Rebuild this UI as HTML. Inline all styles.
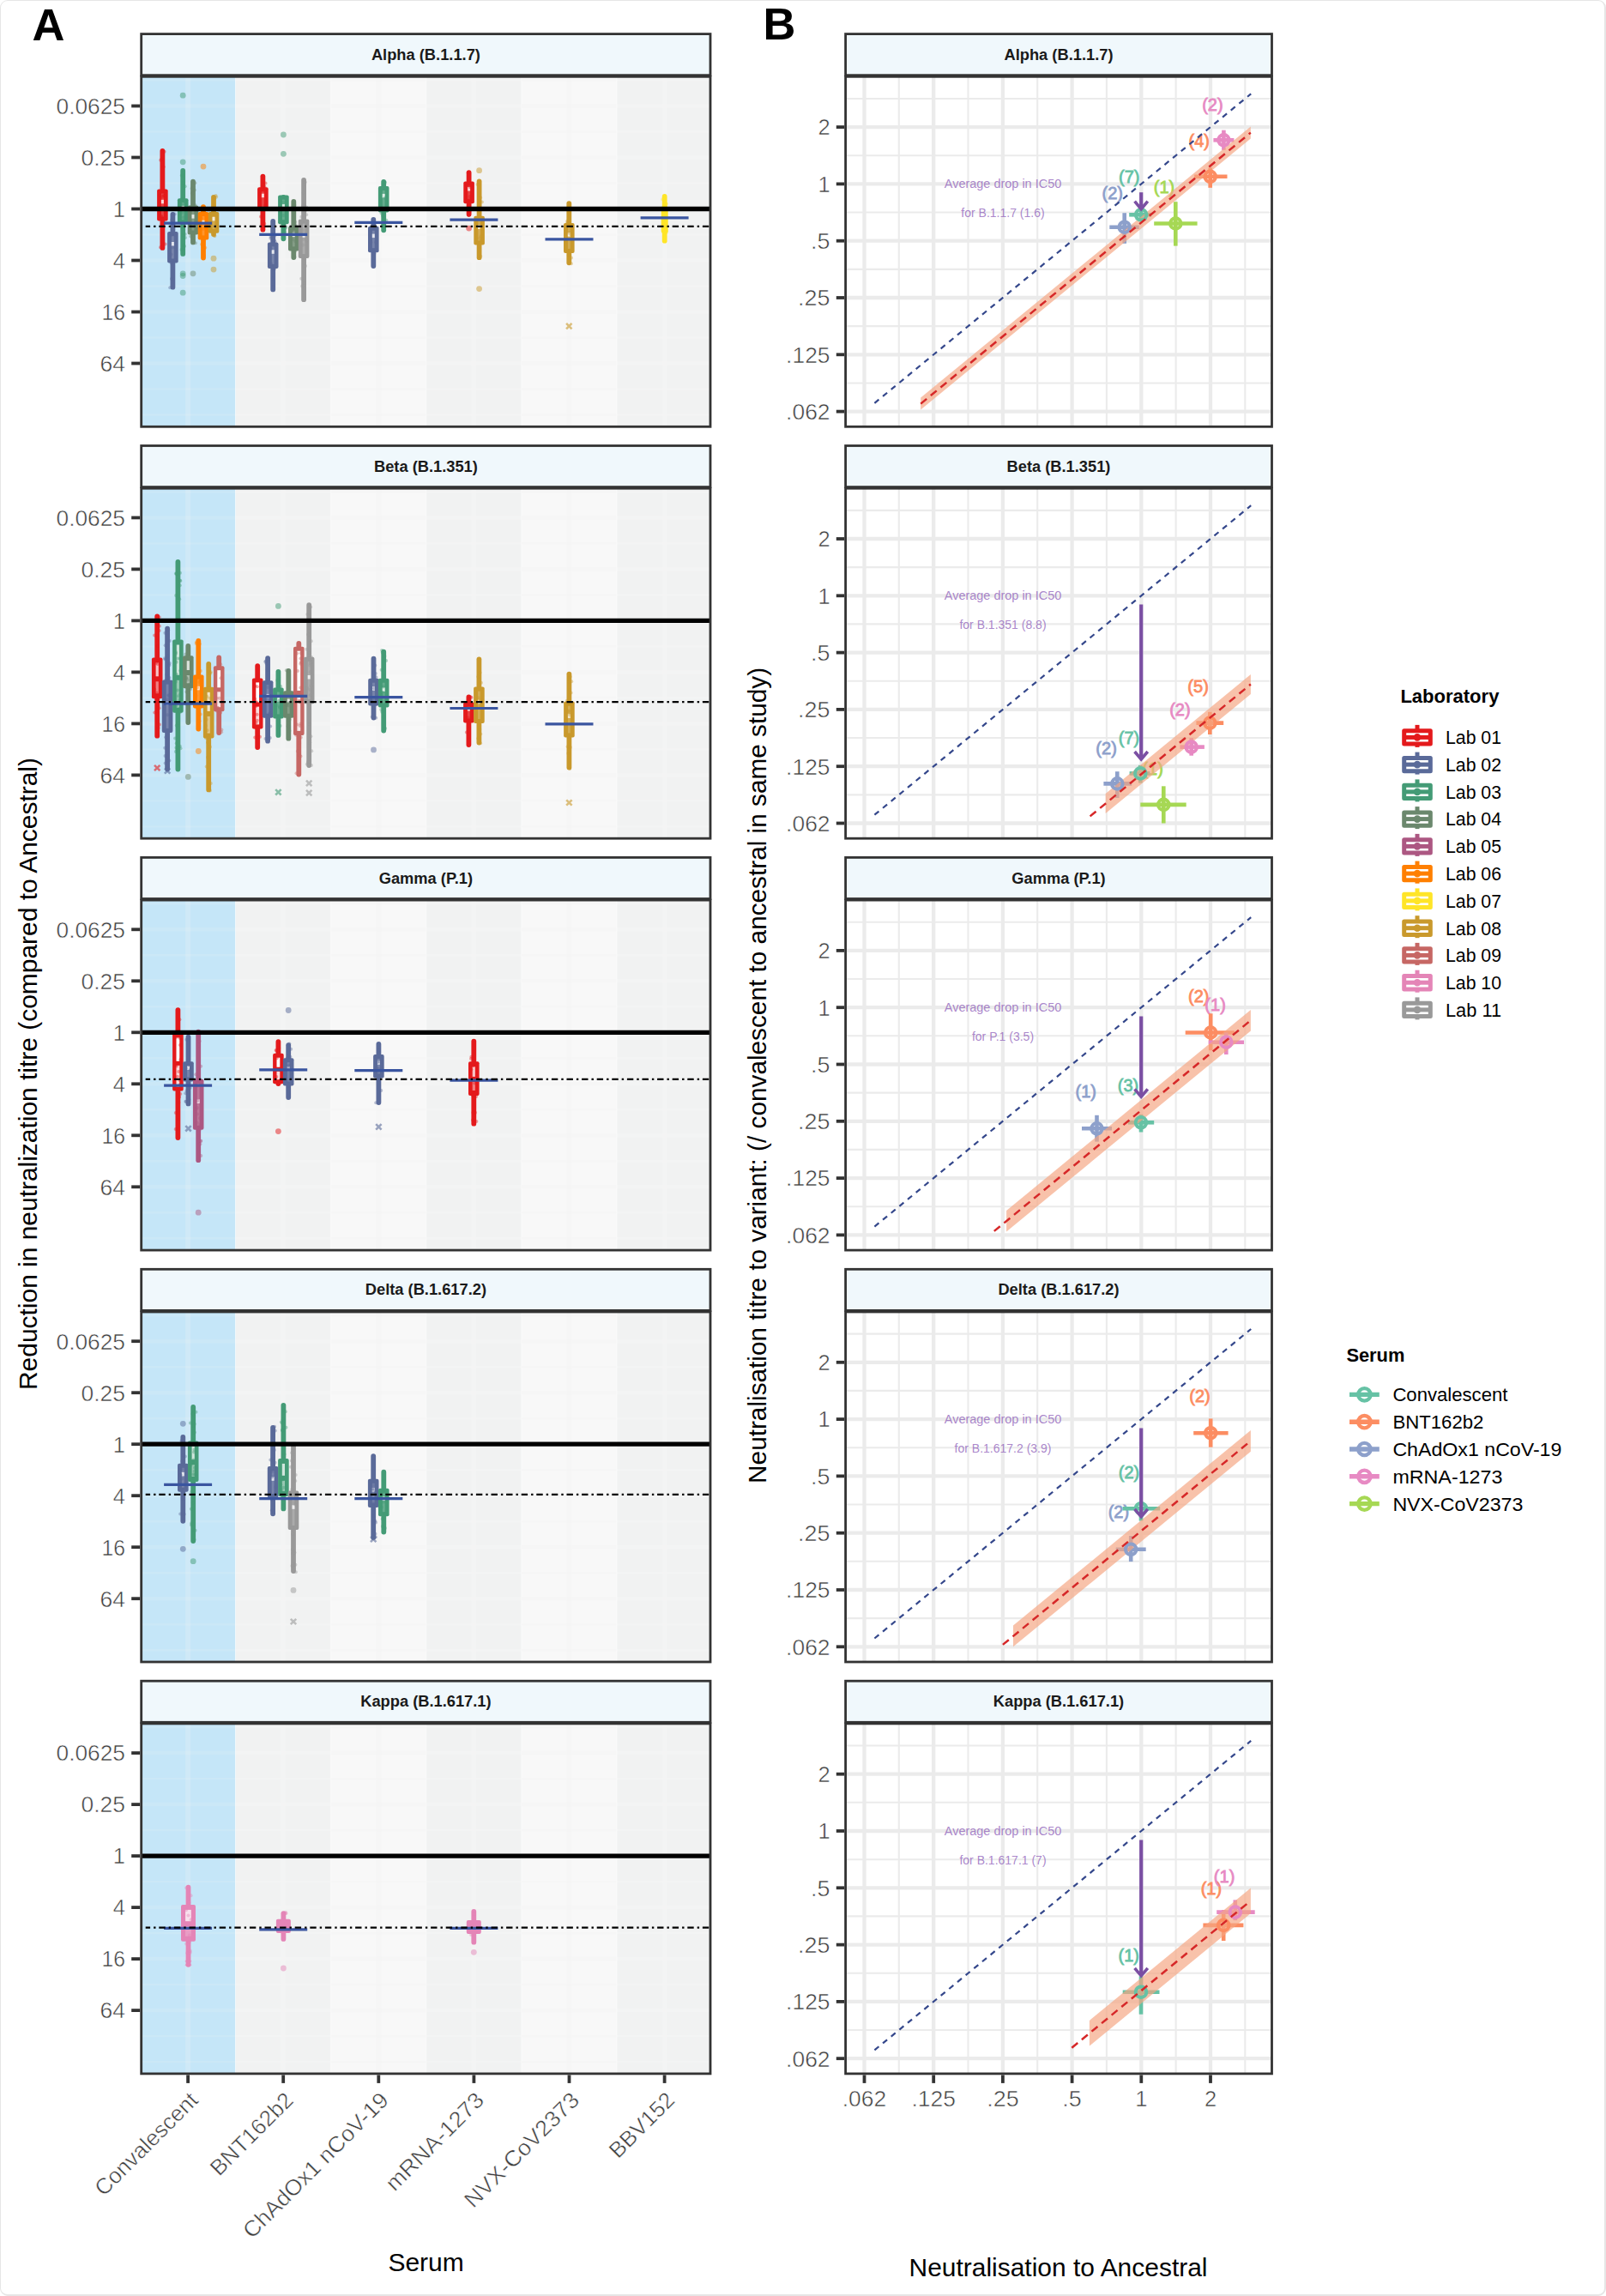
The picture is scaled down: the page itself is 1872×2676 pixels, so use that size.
<!DOCTYPE html>
<html lang="en"><head><meta charset="utf-8"><title>Figure</title>
<style>
html,body{margin:0;padding:0;background:#fff;}
body{width:1872px;height:2676px;position:relative;overflow:hidden;font-family:"Liberation Sans",Arial,Helvetica,sans-serif;}
#frame{position:absolute;left:0;top:0;width:1872px;height:2676px;box-sizing:border-box;border:1px solid #E6E6E6;border-right-width:2px;border-bottom-width:2px;border-radius:9px;pointer-events:none;}
svg{position:absolute;left:0;top:0;display:block;}
svg text{white-space:pre;}
</style></head><body>
<svg width="1872" height="2676" viewBox="0 0 1872 2676" font-family="Liberation Sans, Arial, Helvetica, sans-serif">
<text x="37.5" y="46.8" font-size="52.5" text-anchor="start" fill="#000" font-weight="bold" >A</text>
<text x="889.5" y="46.0" font-size="52.5" text-anchor="start" fill="#000" font-weight="bold" >B</text>
<g>
<rect x="164.7" y="89.3" width="109.9" height="408.0" fill="#C5E6F8"/>
<rect x="274.6" y="89.3" width="111.1" height="408.0" fill="#F1F2F2"/>
<rect x="385.8" y="89.3" width="111.1" height="408.0" fill="#F8F8F8"/>
<rect x="496.8" y="89.3" width="111.1" height="408.0" fill="#F1F2F2"/>
<rect x="607.9" y="89.3" width="111.1" height="408.0" fill="#F8F8F8"/>
<rect x="719.0" y="89.3" width="109.0" height="408.0" fill="#F1F2F2"/>
<g stroke="#F5F5F5" stroke-opacity="0.65"><line x1="164.7" x2="274.6" y1="93.5" y2="93.5" stroke-width="2.4" stroke-opacity="0.12"/><line x1="274.6" x2="828.0" y1="93.5" y2="93.5" stroke-width="2.4"/><line x1="164.7" x2="274.6" y1="123.5" y2="123.5" stroke-width="4.5" stroke-opacity="0.12"/><line x1="274.6" x2="828.0" y1="123.5" y2="123.5" stroke-width="4.5"/><line x1="164.7" x2="274.6" y1="153.5" y2="153.5" stroke-width="2.4" stroke-opacity="0.12"/><line x1="274.6" x2="828.0" y1="153.5" y2="153.5" stroke-width="2.4"/><line x1="164.7" x2="274.6" y1="183.5" y2="183.5" stroke-width="4.5" stroke-opacity="0.12"/><line x1="274.6" x2="828.0" y1="183.5" y2="183.5" stroke-width="4.5"/><line x1="164.7" x2="274.6" y1="213.5" y2="213.5" stroke-width="2.4" stroke-opacity="0.12"/><line x1="274.6" x2="828.0" y1="213.5" y2="213.5" stroke-width="2.4"/><line x1="164.7" x2="274.6" y1="243.5" y2="243.5" stroke-width="4.5" stroke-opacity="0.12"/><line x1="274.6" x2="828.0" y1="243.5" y2="243.5" stroke-width="4.5"/><line x1="164.7" x2="274.6" y1="273.5" y2="273.5" stroke-width="2.4" stroke-opacity="0.12"/><line x1="274.6" x2="828.0" y1="273.5" y2="273.5" stroke-width="2.4"/><line x1="164.7" x2="274.6" y1="303.5" y2="303.5" stroke-width="4.5" stroke-opacity="0.12"/><line x1="274.6" x2="828.0" y1="303.5" y2="303.5" stroke-width="4.5"/><line x1="164.7" x2="274.6" y1="333.5" y2="333.5" stroke-width="2.4" stroke-opacity="0.12"/><line x1="274.6" x2="828.0" y1="333.5" y2="333.5" stroke-width="2.4"/><line x1="164.7" x2="274.6" y1="363.5" y2="363.5" stroke-width="4.5" stroke-opacity="0.12"/><line x1="274.6" x2="828.0" y1="363.5" y2="363.5" stroke-width="4.5"/><line x1="164.7" x2="274.6" y1="393.5" y2="393.5" stroke-width="2.4" stroke-opacity="0.12"/><line x1="274.6" x2="828.0" y1="393.5" y2="393.5" stroke-width="2.4"/><line x1="164.7" x2="274.6" y1="423.5" y2="423.5" stroke-width="4.5" stroke-opacity="0.12"/><line x1="274.6" x2="828.0" y1="423.5" y2="423.5" stroke-width="4.5"/><line x1="164.7" x2="274.6" y1="453.5" y2="453.5" stroke-width="2.4" stroke-opacity="0.12"/><line x1="274.6" x2="828.0" y1="453.5" y2="453.5" stroke-width="2.4"/><line x1="164.7" x2="274.6" y1="483.5" y2="483.5" stroke-width="2.4" stroke-opacity="0.12"/><line x1="274.6" x2="828.0" y1="483.5" y2="483.5" stroke-width="2.4"/><line x1="219.1" x2="219.1" y1="89.3" y2="497.3" stroke-width="6" stroke-opacity="0.22"/><line x1="330.2" x2="330.2" y1="89.3" y2="497.3" stroke-width="6"/><line x1="441.3" x2="441.3" y1="89.3" y2="497.3" stroke-width="6"/><line x1="552.4" x2="552.4" y1="89.3" y2="497.3" stroke-width="6"/><line x1="663.5" x2="663.5" y1="89.3" y2="497.3" stroke-width="6"/><line x1="774.6" x2="774.6" y1="89.3" y2="497.3" stroke-width="6"/></g>
<g stroke="#fff" stroke-opacity="0.5" stroke-width="1"><line x1="274.6" x2="274.6" y1="89.3" y2="497.3"/><line x1="385.8" x2="385.8" y1="89.3" y2="497.3"/><line x1="496.8" x2="496.8" y1="89.3" y2="497.3"/><line x1="607.9" x2="607.9" y1="89.3" y2="497.3"/><line x1="719.0" x2="719.0" y1="89.3" y2="497.3"/></g>
<line x1="189.4" x2="189.4" y1="175.9" y2="288.9" stroke="#E41A1C" stroke-width="5.8" stroke-linecap="round"/>
<rect x="183.1" y="220.6" width="12.6" height="37.0" rx="2" fill="#E41A1C"/>
<rect x="188.0" y="225.6" width="2.8" height="27.0" fill="#fff" fill-opacity="0.18"/>
<rect x="187.9" y="232.8" width="3" height="4.5" fill="#fff" fill-opacity="0.8"/>
<line x1="201.4" x2="201.4" y1="249.9" y2="334.7" stroke="#5A6A99" stroke-width="5.8" stroke-linecap="round"/>
<rect x="195.1" y="270.0" width="12.6" height="36.5" rx="2" fill="#5A6A99"/>
<rect x="200.0" y="275.0" width="2.8" height="26.5" fill="#fff" fill-opacity="0.18"/>
<rect x="199.9" y="282.0" width="3" height="4.5" fill="#fff" fill-opacity="0.8"/>
<line x1="213.2" x2="213.2" y1="198.8" y2="295.9" stroke="#449B76" stroke-width="5.8" stroke-linecap="round"/>
<rect x="206.9" y="231.2" width="12.6" height="30.0" rx="2" fill="#449B76"/>
<rect x="211.8" y="236.2" width="2.8" height="20.0" fill="#fff" fill-opacity="0.18"/>
<rect x="211.7" y="239.8" width="3" height="4.5" fill="#fff" fill-opacity="0.8"/>
<line x1="225" x2="225" y1="211.7" y2="282.4" stroke="#6B886D" stroke-width="5.8" stroke-linecap="round"/>
<rect x="218.7" y="239.4" width="12.6" height="34.1" rx="2" fill="#6B886D"/>
<rect x="223.6" y="244.4" width="2.8" height="24.1" fill="#fff" fill-opacity="0.18"/>
<rect x="223.5" y="250.1" width="3" height="4.5" fill="#fff" fill-opacity="0.8"/>
<line x1="237" x2="237" y1="241.1" y2="300.6" stroke="#FF7F00" stroke-width="5.8" stroke-linecap="round"/>
<rect x="230.7" y="247.0" width="12.6" height="32.4" rx="2" fill="#FF7F00"/>
<rect x="235.6" y="252.0" width="2.8" height="22.4" fill="#fff" fill-opacity="0.18"/>
<rect x="235.5" y="256.8" width="3" height="4.5" fill="#fff" fill-opacity="0.8"/>
<line x1="249" x2="249" y1="229.9" y2="273.0" stroke="#C9992C" stroke-width="5.8" stroke-linecap="round"/>
<rect x="242.7" y="247.0" width="12.6" height="24.8" rx="2" fill="#C9992C"/>
<rect x="247.6" y="252.0" width="2.8" height="14.8" fill="#fff" fill-opacity="0.18"/>
<rect x="247.5" y="252.9" width="3" height="4.5" fill="#fff" fill-opacity="0.8"/>
<line x1="306.4" x2="306.4" y1="205.6" y2="267.7" stroke="#E41A1C" stroke-width="5.8" stroke-linecap="round"/>
<rect x="300.1" y="218.3" width="12.6" height="27.7" rx="2" fill="#E41A1C"/>
<rect x="305.0" y="223.3" width="2.8" height="17.7" fill="#fff" fill-opacity="0.18"/>
<rect x="304.9" y="225.7" width="3" height="4.5" fill="#fff" fill-opacity="0.8"/>
<line x1="318.2" x2="318.2" y1="257.9" y2="337.4" stroke="#5A6A99" stroke-width="5.8" stroke-linecap="round"/>
<rect x="311.9" y="282.4" width="12.6" height="30.5" rx="2" fill="#5A6A99"/>
<rect x="316.8" y="287.4" width="2.8" height="20.5" fill="#fff" fill-opacity="0.18"/>
<rect x="316.7" y="291.3" width="3" height="4.5" fill="#fff" fill-opacity="0.8"/>
<line x1="330.4" x2="330.4" y1="229.9" y2="278.3" stroke="#449B76" stroke-width="5.8" stroke-linecap="round"/>
<rect x="324.1" y="227.6" width="12.6" height="33.6" rx="2" fill="#449B76"/>
<rect x="329.0" y="232.6" width="2.8" height="23.6" fill="#fff" fill-opacity="0.18"/>
<rect x="328.9" y="238.1" width="3" height="4.5" fill="#fff" fill-opacity="0.8"/>
<line x1="342.3" x2="342.3" y1="234.9" y2="300.1" stroke="#6B886D" stroke-width="5.8" stroke-linecap="round"/>
<rect x="336.0" y="263.7" width="12.6" height="28.7" rx="2" fill="#6B886D"/>
<rect x="340.9" y="268.7" width="2.8" height="18.7" fill="#fff" fill-opacity="0.18"/>
<rect x="340.8" y="271.6" width="3" height="4.5" fill="#fff" fill-opacity="0.8"/>
<line x1="354.1" x2="354.1" y1="209.9" y2="349.2" stroke="#999999" stroke-width="5.8" stroke-linecap="round"/>
<rect x="347.8" y="255.6" width="12.6" height="45.5" rx="2" fill="#999999"/>
<rect x="352.7" y="260.6" width="2.8" height="35.5" fill="#fff" fill-opacity="0.18"/>
<rect x="352.6" y="272.3" width="3" height="4.5" fill="#fff" fill-opacity="0.8"/>
<line x1="435.3" x2="435.3" y1="256.0" y2="310.0" stroke="#5A6A99" stroke-width="5.8" stroke-linecap="round"/>
<rect x="429.0" y="263.7" width="12.6" height="30.5" rx="2" fill="#5A6A99"/>
<rect x="433.9" y="268.7" width="2.8" height="20.5" fill="#fff" fill-opacity="0.18"/>
<rect x="433.8" y="272.6" width="3" height="4.5" fill="#fff" fill-opacity="0.8"/>
<line x1="447.2" x2="447.2" y1="211.8" y2="268.3" stroke="#449B76" stroke-width="5.8" stroke-linecap="round"/>
<rect x="440.9" y="217.0" width="12.6" height="30.5" rx="2" fill="#449B76"/>
<rect x="445.8" y="222.0" width="2.8" height="20.5" fill="#fff" fill-opacity="0.18"/>
<rect x="445.7" y="225.9" width="3" height="4.5" fill="#fff" fill-opacity="0.8"/>
<line x1="546.6" x2="546.6" y1="201.2" y2="249.8" stroke="#E41A1C" stroke-width="5.8" stroke-linecap="round"/>
<rect x="540.3" y="211.6" width="12.6" height="25.7" rx="2" fill="#E41A1C"/>
<rect x="545.2" y="216.6" width="2.8" height="15.7" fill="#fff" fill-opacity="0.18"/>
<rect x="545.1" y="218.0" width="3" height="4.5" fill="#fff" fill-opacity="0.8"/>
<line x1="558.6" x2="558.6" y1="211.5" y2="300.2" stroke="#C9992C" stroke-width="5.8" stroke-linecap="round"/>
<rect x="552.3" y="251.7" width="12.6" height="33.9" rx="2" fill="#C9992C"/>
<rect x="557.2" y="256.7" width="2.8" height="23.9" fill="#fff" fill-opacity="0.18"/>
<rect x="557.1" y="262.3" width="3" height="4.5" fill="#fff" fill-opacity="0.8"/>
<line x1="663.3" x2="663.3" y1="237.1" y2="306.3" stroke="#C9992C" stroke-width="5.8" stroke-linecap="round"/>
<rect x="657.0" y="259.9" width="12.6" height="35.0" rx="2" fill="#C9992C"/>
<rect x="661.9" y="264.9" width="2.8" height="25.0" fill="#fff" fill-opacity="0.18"/>
<rect x="661.8" y="271.1" width="3" height="4.5" fill="#fff" fill-opacity="0.8"/>
<line x1="774.7" x2="774.7" y1="228.9" y2="280.7" stroke="#FFE528" stroke-width="5.8" stroke-linecap="round"/>
<rect x="770.7" y="240.0" width="8" height="32.0" rx="3" fill="#FFE528"/>
<g fill="#E41A1C" fill-opacity="0.4"><circle cx="190.5" cy="264.8" r="2"/><circle cx="188.4" cy="185.6" r="2"/><circle cx="189.6" cy="228.7" r="2"/><circle cx="187.0" cy="288.3" r="2"/><circle cx="188.5" cy="252.4" r="2"/><circle cx="187.4" cy="231.1" r="2"/><circle cx="187.6" cy="251.8" r="2"/><circle cx="186.4" cy="227.5" r="2"/><circle cx="189.3" cy="287.8" r="2"/><circle cx="190.8" cy="227.9" r="2"/><circle cx="192.0" cy="222.6" r="2"/><circle cx="191.6" cy="176.7" r="2"/><circle cx="191.5" cy="228.7" r="2"/><circle cx="192.6" cy="284.4" r="2"/><circle cx="190.7" cy="194.6" r="2"/><circle cx="187.2" cy="186.7" r="2"/></g>
<g fill="#5A6A99" fill-opacity="0.4"><circle cx="200.2" cy="256.2" r="2"/><circle cx="203.7" cy="249.5" r="2"/><circle cx="203.2" cy="273.8" r="2"/><circle cx="199.4" cy="296.6" r="2"/><circle cx="200.2" cy="273.9" r="2"/><circle cx="199.6" cy="306.4" r="2"/><circle cx="204.0" cy="302.9" r="2"/><circle cx="200.0" cy="325.0" r="2"/><circle cx="201.3" cy="288.6" r="2"/><circle cx="200.3" cy="272.8" r="2"/><circle cx="198.2" cy="335.2" r="2"/><circle cx="202.4" cy="260.7" r="2"/></g>
<g fill="#449B76" fill-opacity="0.4"><circle cx="211.8" cy="204.5" r="2"/><circle cx="215.9" cy="277.0" r="2"/><circle cx="211.3" cy="234.3" r="2"/><circle cx="214.1" cy="285.7" r="2"/><circle cx="212.1" cy="247.7" r="2"/><circle cx="211.8" cy="232.0" r="2"/><circle cx="213.1" cy="274.1" r="2"/><circle cx="215.7" cy="217.2" r="2"/><circle cx="215.6" cy="273.1" r="2"/><circle cx="211.5" cy="291.0" r="2"/><circle cx="215.0" cy="286.9" r="2"/><circle cx="212.0" cy="238.7" r="2"/><circle cx="213.8" cy="253.5" r="2"/><circle cx="213.1" cy="213.6" r="2"/></g>
<g fill="#6B886D" fill-opacity="0.4"><circle cx="224.8" cy="280.5" r="2"/><circle cx="227.8" cy="239.3" r="2"/><circle cx="227.9" cy="283.2" r="2"/><circle cx="227.4" cy="213.3" r="2"/><circle cx="224.0" cy="224.8" r="2"/><circle cx="222.3" cy="275.5" r="2"/><circle cx="223.5" cy="219.7" r="2"/><circle cx="223.9" cy="225.4" r="2"/><circle cx="225.9" cy="263.9" r="2"/><circle cx="226.8" cy="221.6" r="2"/></g>
<g fill="#FF7F00" fill-opacity="0.4"><circle cx="237.6" cy="297.7" r="2"/><circle cx="236.9" cy="249.9" r="2"/><circle cx="235.1" cy="284.7" r="2"/><circle cx="237.8" cy="277.9" r="2"/><circle cx="234.7" cy="254.2" r="2"/><circle cx="237.2" cy="288.1" r="2"/><circle cx="236.9" cy="267.0" r="2"/><circle cx="239.2" cy="288.8" r="2"/><circle cx="238.8" cy="264.9" r="2"/></g>
<g fill="#C9992C" fill-opacity="0.4"><circle cx="251.5" cy="228.1" r="2"/><circle cx="252.2" cy="229.5" r="2"/><circle cx="249.7" cy="274.7" r="2"/><circle cx="250.2" cy="269.7" r="2"/><circle cx="250.3" cy="231.2" r="2"/><circle cx="250.4" cy="274.9" r="2"/></g>
<g fill="#E41A1C" fill-opacity="0.4"><circle cx="305.9" cy="218.1" r="2"/><circle cx="308.3" cy="260.8" r="2"/><circle cx="308.5" cy="217.8" r="2"/><circle cx="303.2" cy="226.0" r="2"/><circle cx="306.9" cy="265.3" r="2"/><circle cx="304.0" cy="252.6" r="2"/><circle cx="309.2" cy="239.6" r="2"/><circle cx="309.5" cy="213.6" r="2"/><circle cx="307.9" cy="244.6" r="2"/></g>
<g fill="#5A6A99" fill-opacity="0.4"><circle cx="319.9" cy="313.6" r="2"/><circle cx="318.9" cy="272.3" r="2"/><circle cx="315.6" cy="275.7" r="2"/><circle cx="320.9" cy="282.1" r="2"/><circle cx="318.1" cy="334.4" r="2"/><circle cx="316.1" cy="307.4" r="2"/><circle cx="319.2" cy="280.2" r="2"/><circle cx="319.9" cy="279.7" r="2"/><circle cx="317.9" cy="324.7" r="2"/><circle cx="316.0" cy="289.8" r="2"/><circle cx="320.4" cy="274.8" r="2"/><circle cx="315.4" cy="277.7" r="2"/></g>
<g fill="#449B76" fill-opacity="0.4"><circle cx="332.4" cy="266.5" r="2"/><circle cx="332.1" cy="272.7" r="2"/><circle cx="330.3" cy="235.6" r="2"/><circle cx="330.5" cy="250.9" r="2"/><circle cx="331.6" cy="264.8" r="2"/><circle cx="333.3" cy="264.8" r="2"/><circle cx="332.2" cy="270.0" r="2"/></g>
<g fill="#6B886D" fill-opacity="0.4"><circle cx="344.5" cy="262.3" r="2"/><circle cx="343.5" cy="299.7" r="2"/><circle cx="343.4" cy="239.1" r="2"/><circle cx="340.4" cy="268.6" r="2"/><circle cx="344.1" cy="258.8" r="2"/><circle cx="341.7" cy="279.0" r="2"/><circle cx="343.9" cy="281.0" r="2"/><circle cx="344.9" cy="263.9" r="2"/><circle cx="340.2" cy="263.9" r="2"/><circle cx="344.0" cy="292.7" r="2"/></g>
<g fill="#999999" fill-opacity="0.4"><circle cx="356.1" cy="310.0" r="2"/><circle cx="351.2" cy="324.8" r="2"/><circle cx="355.8" cy="245.9" r="2"/><circle cx="355.8" cy="212.3" r="2"/><circle cx="357.2" cy="241.5" r="2"/><circle cx="357.2" cy="279.6" r="2"/><circle cx="357.2" cy="250.2" r="2"/><circle cx="351.3" cy="252.7" r="2"/><circle cx="353.7" cy="278.7" r="2"/><circle cx="351.6" cy="259.5" r="2"/><circle cx="352.2" cy="333.5" r="2"/><circle cx="353.5" cy="268.8" r="2"/><circle cx="355.1" cy="214.3" r="2"/><circle cx="353.1" cy="239.6" r="2"/><circle cx="353.7" cy="285.5" r="2"/><circle cx="357.3" cy="280.7" r="2"/><circle cx="357.1" cy="278.3" r="2"/><circle cx="355.0" cy="330.0" r="2"/><circle cx="353.8" cy="224.7" r="2"/><circle cx="355.3" cy="302.1" r="2"/></g>
<g fill="#5A6A99" fill-opacity="0.4"><circle cx="434.9" cy="259.4" r="2"/><circle cx="432.2" cy="282.3" r="2"/><circle cx="438.0" cy="282.3" r="2"/><circle cx="434.5" cy="263.3" r="2"/><circle cx="435.4" cy="266.9" r="2"/><circle cx="436.4" cy="295.4" r="2"/><circle cx="436.7" cy="261.7" r="2"/><circle cx="438.2" cy="291.2" r="2"/></g>
<g fill="#449B76" fill-opacity="0.4"><circle cx="444.5" cy="248.4" r="2"/><circle cx="446.1" cy="251.4" r="2"/><circle cx="449.0" cy="212.5" r="2"/><circle cx="446.8" cy="243.3" r="2"/><circle cx="446.9" cy="243.7" r="2"/><circle cx="450.4" cy="256.7" r="2"/><circle cx="448.7" cy="230.7" r="2"/><circle cx="446.4" cy="264.5" r="2"/></g>
<g fill="#E41A1C" fill-opacity="0.4"><circle cx="547.4" cy="246.8" r="2"/><circle cx="544.3" cy="215.7" r="2"/><circle cx="545.6" cy="201.1" r="2"/><circle cx="547.6" cy="218.1" r="2"/><circle cx="547.6" cy="229.1" r="2"/><circle cx="547.4" cy="232.4" r="2"/><circle cx="546.4" cy="251.0" r="2"/></g>
<g fill="#C9992C" fill-opacity="0.4"><circle cx="556.5" cy="214.9" r="2"/><circle cx="560.1" cy="230.2" r="2"/><circle cx="561.9" cy="235.5" r="2"/><circle cx="560.7" cy="280.5" r="2"/><circle cx="559.0" cy="249.6" r="2"/><circle cx="561.0" cy="265.9" r="2"/><circle cx="559.2" cy="234.4" r="2"/><circle cx="561.9" cy="266.8" r="2"/><circle cx="560.6" cy="275.2" r="2"/><circle cx="557.7" cy="282.6" r="2"/><circle cx="559.1" cy="277.8" r="2"/><circle cx="558.7" cy="243.6" r="2"/><circle cx="560.3" cy="298.7" r="2"/></g>
<g fill="#C9992C" fill-opacity="0.4"><circle cx="665.5" cy="273.6" r="2"/><circle cx="661.2" cy="257.7" r="2"/><circle cx="666.0" cy="300.4" r="2"/><circle cx="662.7" cy="297.4" r="2"/><circle cx="663.4" cy="296.6" r="2"/><circle cx="665.9" cy="307.3" r="2"/><circle cx="660.6" cy="292.6" r="2"/><circle cx="661.3" cy="259.8" r="2"/><circle cx="661.5" cy="260.2" r="2"/><circle cx="663.2" cy="271.4" r="2"/></g>
<g fill="#FFE528" fill-opacity="0.4"><circle cx="772.7" cy="259.1" r="2"/><circle cx="775.1" cy="281.3" r="2"/><circle cx="772.6" cy="255.7" r="2"/><circle cx="777.0" cy="237.8" r="2"/><circle cx="776.8" cy="269.3" r="2"/><circle cx="772.2" cy="232.3" r="2"/><circle cx="776.8" cy="271.0" r="2"/><circle cx="775.9" cy="237.6" r="2"/></g>
<circle cx="213.2" cy="111.2" r="3.4" fill="#449B76" fill-opacity="0.5"/>
<circle cx="213.2" cy="188.8" r="3.4" fill="#449B76" fill-opacity="0.5"/>
<circle cx="213.2" cy="318.8" r="3.4" fill="#449B76" fill-opacity="0.5"/>
<circle cx="213.2" cy="321.5" r="3.4" fill="#449B76" fill-opacity="0.5"/>
<circle cx="213.2" cy="341.2" r="3.4" fill="#449B76" fill-opacity="0.5"/>
<circle cx="225" cy="318.8" r="3.4" fill="#6B886D" fill-opacity="0.5"/>
<circle cx="237" cy="194.1" r="3.4" fill="#FF7F00" fill-opacity="0.5"/>
<circle cx="249" cy="301.2" r="3.4" fill="#C9992C" fill-opacity="0.5"/>
<circle cx="249" cy="314.1" r="3.4" fill="#C9992C" fill-opacity="0.5"/>
<circle cx="330.4" cy="157" r="3.4" fill="#449B76" fill-opacity="0.5"/>
<circle cx="330.4" cy="179.3" r="3.4" fill="#449B76" fill-opacity="0.5"/>
<circle cx="546.6" cy="266.1" r="3.4" fill="#E41A1C" fill-opacity="0.5"/>
<circle cx="558.6" cy="198.7" r="3.4" fill="#C9992C" fill-opacity="0.5"/>
<circle cx="558.6" cy="336.6" r="3.4" fill="#C9992C" fill-opacity="0.5"/>
<path d="M660.0999999999999 376.90000000000003L666.5 383.3M660.0999999999999 383.3L666.5 376.90000000000003" stroke="#C9992C" stroke-opacity="0.6" stroke-width="2.6"/>
<line x1="191.1" x2="247.1" y1="260.2" y2="260.2" stroke="#3A55A0" stroke-width="3.2"/>
<line x1="302.2" x2="358.2" y1="273.3" y2="273.3" stroke="#3A55A0" stroke-width="3.2"/>
<line x1="413.3" x2="469.3" y1="259.4" y2="259.4" stroke="#3A55A0" stroke-width="3.2"/>
<line x1="524.4" x2="580.4" y1="256.2" y2="256.2" stroke="#3A55A0" stroke-width="3.2"/>
<line x1="635.5" x2="691.5" y1="278.8" y2="278.8" stroke="#3A55A0" stroke-width="3.2"/>
<line x1="746.6" x2="802.6" y1="253.8" y2="253.8" stroke="#3A55A0" stroke-width="3.2"/>
<line x1="169.7" x2="826.6" y1="263.8" y2="263.8" stroke="#000" stroke-width="2.3" stroke-dasharray="7.4 4 2.4 3.8" stroke-dashoffset="2"/>
<line x1="164.7" x2="828.0" y1="243.5" y2="243.5" stroke="#000" stroke-width="5.3"/>
<rect x="164.7" y="89.3" width="663.3" height="408.0" fill="none" stroke="#333333" stroke-width="2.8"/>
</g>
<rect x="164.7" y="39.6" width="663.3" height="48.1" fill="#F0F8FC" stroke="#333333" stroke-width="2.8"/>
<text x="496.4" y="69.7" font-size="18.3" text-anchor="middle" fill="#1a1a1a" font-weight="bold" >Alpha (B.1.1.7)</text>
<line x1="153.2" x2="163.2" y1="123.5" y2="123.5" stroke="#333333" stroke-width="3.8"/>
<text x="146.0" y="132.8" font-size="25.5" text-anchor="end" fill="#3d3d3d" textLength="80.5" lengthAdjust="spacingAndGlyphs" stroke="#fff" stroke-width="0.5">0.0625</text>
<line x1="153.2" x2="163.2" y1="183.5" y2="183.5" stroke="#333333" stroke-width="3.8"/>
<text x="146.0" y="192.8" font-size="25.5" text-anchor="end" fill="#3d3d3d" textLength="51.5" lengthAdjust="spacingAndGlyphs" stroke="#fff" stroke-width="0.5">0.25</text>
<line x1="153.2" x2="163.2" y1="243.5" y2="243.5" stroke="#333333" stroke-width="3.8"/>
<text x="146.0" y="252.8" font-size="25.5" text-anchor="end" fill="#3d3d3d" stroke="#fff" stroke-width="0.5">1</text>
<line x1="153.2" x2="163.2" y1="303.5" y2="303.5" stroke="#333333" stroke-width="3.8"/>
<text x="146.0" y="312.8" font-size="25.5" text-anchor="end" fill="#3d3d3d" stroke="#fff" stroke-width="0.5">4</text>
<line x1="153.2" x2="163.2" y1="363.5" y2="363.5" stroke="#333333" stroke-width="3.8"/>
<text x="146.0" y="372.8" font-size="25.5" text-anchor="end" fill="#3d3d3d" textLength="27.5" lengthAdjust="spacingAndGlyphs" stroke="#fff" stroke-width="0.5">16</text>
<line x1="153.2" x2="163.2" y1="423.5" y2="423.5" stroke="#333333" stroke-width="3.8"/>
<text x="146.0" y="432.8" font-size="25.5" text-anchor="end" fill="#3d3d3d" textLength="29.5" lengthAdjust="spacingAndGlyphs" stroke="#fff" stroke-width="0.5">64</text>
<rect x="985.6" y="89.3" width="496.9" height="408.0" fill="#fff"/>
<g stroke="#EBEBEB"><line x1="1007.5" x2="1007.5" y1="89.3" y2="497.3" stroke-width="4.3"/><line x1="1047.8" x2="1047.8" y1="89.3" y2="497.3" stroke-width="2.1"/><line x1="1088.2" x2="1088.2" y1="89.3" y2="497.3" stroke-width="4.3"/><line x1="1128.5" x2="1128.5" y1="89.3" y2="497.3" stroke-width="2.1"/><line x1="1168.9" x2="1168.9" y1="89.3" y2="497.3" stroke-width="4.3"/><line x1="1209.2" x2="1209.2" y1="89.3" y2="497.3" stroke-width="2.1"/><line x1="1249.6" x2="1249.6" y1="89.3" y2="497.3" stroke-width="4.3"/><line x1="1289.9" x2="1289.9" y1="89.3" y2="497.3" stroke-width="2.1"/><line x1="1330.3" x2="1330.3" y1="89.3" y2="497.3" stroke-width="4.3"/><line x1="1370.6" x2="1370.6" y1="89.3" y2="497.3" stroke-width="2.1"/><line x1="1411.0" x2="1411.0" y1="89.3" y2="497.3" stroke-width="4.3"/><line x1="1451.3" x2="1451.3" y1="89.3" y2="497.3" stroke-width="2.1"/><line x1="985.6" x2="1482.5" y1="479.6" y2="479.6" stroke-width="4.3"/><line x1="985.6" x2="1482.5" y1="446.5" y2="446.5" stroke-width="2.1"/><line x1="985.6" x2="1482.5" y1="413.3" y2="413.3" stroke-width="4.3"/><line x1="985.6" x2="1482.5" y1="380.1" y2="380.1" stroke-width="2.1"/><line x1="985.6" x2="1482.5" y1="347.0" y2="347.0" stroke-width="4.3"/><line x1="985.6" x2="1482.5" y1="313.9" y2="313.9" stroke-width="2.1"/><line x1="985.6" x2="1482.5" y1="280.7" y2="280.7" stroke-width="4.3"/><line x1="985.6" x2="1482.5" y1="247.5" y2="247.5" stroke-width="2.1"/><line x1="985.6" x2="1482.5" y1="214.4" y2="214.4" stroke-width="4.3"/><line x1="985.6" x2="1482.5" y1="181.2" y2="181.2" stroke-width="2.1"/><line x1="985.6" x2="1482.5" y1="148.1" y2="148.1" stroke-width="4.3"/><line x1="985.6" x2="1482.5" y1="115.0" y2="115.0" stroke-width="2.1"/></g>
<text x="1357.0" y="225.2" font-size="20" text-anchor="middle" fill="#A6D854" stroke="#A6D854" stroke-width="0.8">(1)</text>
<text x="1296.7" y="232.0" font-size="20" text-anchor="middle" fill="#8DA0CB" stroke="#8DA0CB" stroke-width="0.8">(2)</text>
<text x="1316.2" y="212.8" font-size="20" text-anchor="middle" fill="#66C2A5" stroke="#66C2A5" stroke-width="0.8">(7)</text>
<text x="1397.7" y="171.1" font-size="20" text-anchor="middle" fill="#FC8D62" stroke="#FC8D62" stroke-width="0.8">(4)</text>
<text x="1413.4" y="128.6" font-size="20" text-anchor="middle" fill="#E78AC3" stroke="#E78AC3" stroke-width="0.8">(2)</text>
<g stroke="#A6D854" fill="none" stroke-width="4.6"><line x1="1345.2" x2="1395.6" y1="260.5" y2="260.5"/><line x1="1370.3" x2="1370.3" y1="235.2" y2="286.6"/></g>
<g stroke="#8DA0CB" fill="none" stroke-width="4.6"><line x1="1293.3" x2="1327.8" y1="264.7" y2="264.7"/><line x1="1310.7" x2="1310.7" y1="248.2" y2="283.8"/></g>
<g stroke="#66C2A5" fill="none" stroke-width="4.6"><line x1="1316.2" x2="1342.2" y1="250.3" y2="250.3"/><line x1="1330.1" x2="1330.1" y1="243" y2="258"/></g>
<g stroke="#FC8D62" fill="none" stroke-width="4.6"><line x1="1392.2" x2="1430.5" y1="205.8" y2="205.8"/><line x1="1410.7" x2="1410.7" y1="195.5" y2="218.8"/></g>
<g stroke="#E78AC3" fill="none" stroke-width="4.6"><line x1="1414.4" x2="1438.4" y1="163.3" y2="163.3"/><line x1="1426.4" x2="1426.4" y1="151.7" y2="174.9"/></g>
<polygon points="1073.2,463.6 1457.8,147.6 1457.8,161.6 1073.2,477.6" fill="#F4A582" fill-opacity="0.68"/>
<line x1="1019.4" y1="469.8" x2="1458.2" y2="109.3" stroke="#34478B" stroke-width="2.2" stroke-dasharray="6.5 6"/>
<circle cx="1370.3" cy="260.5" r="6.3" stroke-width="4" stroke="#A6D854" fill="none"/>
<circle cx="1310.7" cy="264.7" r="6.3" stroke-width="4" stroke="#8DA0CB" fill="none"/>
<circle cx="1330.1" cy="250.3" r="6.3" stroke-width="4" stroke="#66C2A5" fill="none"/>
<circle cx="1410.7" cy="205.8" r="6.3" stroke-width="4" stroke="#FC8D62" fill="none"/>
<circle cx="1426.4" cy="163.3" r="6.3" stroke-width="4" stroke="#E78AC3" fill="none"/>
<line x1="1073.2" y1="470.6" x2="1457.8" y2="154.6" stroke="#D62728" stroke-width="2.5" stroke-dasharray="9 6"/>
<g stroke="#7B4FA3" fill="none" stroke-width="4.2"><line x1="1330.2" x2="1330.2" y1="224.2" y2="243.1"/><path d="M1322.6 234.6L1330.2 243.6L1337.8 234.6" stroke-width="3.6" stroke-linejoin="miter"/></g>
<text x="1169.0" y="219.4" font-size="14" text-anchor="middle" fill="#9467BD" textLength="136.5" lengthAdjust="spacingAndGlyphs" fill-opacity="0.8">Average drop in IC50</text>
<text x="1169.0" y="252.9" font-size="14" text-anchor="middle" fill="#9467BD" fill-opacity="0.8">for B.1.1.7 (1.6)</text>
<rect x="985.6" y="89.3" width="496.9" height="408.0" fill="none" stroke="#333333" stroke-width="2.8"/>
<rect x="985.6" y="39.6" width="496.9" height="48.1" fill="#F0F8FC" stroke="#333333" stroke-width="2.8"/>
<text x="1234.0" y="69.7" font-size="18.3" text-anchor="middle" fill="#1a1a1a" font-weight="bold" >Alpha (B.1.1.7)</text>
<line x1="974.8" x2="984.1" y1="148.1" y2="148.1" stroke="#333333" stroke-width="3.8"/>
<text x="967.6" y="157.4" font-size="25.5" text-anchor="end" fill="#3d3d3d" stroke="#fff" stroke-width="0.5">2</text>
<line x1="974.8" x2="984.1" y1="214.4" y2="214.4" stroke="#333333" stroke-width="3.8"/>
<text x="967.6" y="223.7" font-size="25.5" text-anchor="end" fill="#3d3d3d" stroke="#fff" stroke-width="0.5">1</text>
<line x1="974.8" x2="984.1" y1="280.7" y2="280.7" stroke="#333333" stroke-width="3.8"/>
<text x="967.6" y="290.0" font-size="25.5" text-anchor="end" fill="#3d3d3d" textLength="22.5" lengthAdjust="spacingAndGlyphs" stroke="#fff" stroke-width="0.5">.5</text>
<line x1="974.8" x2="984.1" y1="347.0" y2="347.0" stroke="#333333" stroke-width="3.8"/>
<text x="967.6" y="356.3" font-size="25.5" text-anchor="end" fill="#3d3d3d" textLength="37.5" lengthAdjust="spacingAndGlyphs" stroke="#fff" stroke-width="0.5">.25</text>
<line x1="974.8" x2="984.1" y1="413.3" y2="413.3" stroke="#333333" stroke-width="3.8"/>
<text x="967.6" y="422.6" font-size="25.5" text-anchor="end" fill="#3d3d3d" textLength="51.5" lengthAdjust="spacingAndGlyphs" stroke="#fff" stroke-width="0.5">.125</text>
<line x1="974.8" x2="984.1" y1="479.6" y2="479.6" stroke="#333333" stroke-width="3.8"/>
<text x="967.6" y="488.9" font-size="25.5" text-anchor="end" fill="#3d3d3d" textLength="51.5" lengthAdjust="spacingAndGlyphs" stroke="#fff" stroke-width="0.5">.062</text>
<g>
<rect x="164.7" y="569.2" width="109.9" height="408.0" fill="#C5E6F8"/>
<rect x="274.6" y="569.2" width="111.1" height="408.0" fill="#F1F2F2"/>
<rect x="385.8" y="569.2" width="111.1" height="408.0" fill="#F8F8F8"/>
<rect x="496.8" y="569.2" width="111.1" height="408.0" fill="#F1F2F2"/>
<rect x="607.9" y="569.2" width="111.1" height="408.0" fill="#F8F8F8"/>
<rect x="719.0" y="569.2" width="109.0" height="408.0" fill="#F1F2F2"/>
<g stroke="#F5F5F5" stroke-opacity="0.65"><line x1="164.7" x2="274.6" y1="573.4" y2="573.4" stroke-width="2.4" stroke-opacity="0.12"/><line x1="274.6" x2="828.0" y1="573.4" y2="573.4" stroke-width="2.4"/><line x1="164.7" x2="274.6" y1="603.4" y2="603.4" stroke-width="4.5" stroke-opacity="0.12"/><line x1="274.6" x2="828.0" y1="603.4" y2="603.4" stroke-width="4.5"/><line x1="164.7" x2="274.6" y1="633.4" y2="633.4" stroke-width="2.4" stroke-opacity="0.12"/><line x1="274.6" x2="828.0" y1="633.4" y2="633.4" stroke-width="2.4"/><line x1="164.7" x2="274.6" y1="663.4" y2="663.4" stroke-width="4.5" stroke-opacity="0.12"/><line x1="274.6" x2="828.0" y1="663.4" y2="663.4" stroke-width="4.5"/><line x1="164.7" x2="274.6" y1="693.4" y2="693.4" stroke-width="2.4" stroke-opacity="0.12"/><line x1="274.6" x2="828.0" y1="693.4" y2="693.4" stroke-width="2.4"/><line x1="164.7" x2="274.6" y1="723.4" y2="723.4" stroke-width="4.5" stroke-opacity="0.12"/><line x1="274.6" x2="828.0" y1="723.4" y2="723.4" stroke-width="4.5"/><line x1="164.7" x2="274.6" y1="753.4" y2="753.4" stroke-width="2.4" stroke-opacity="0.12"/><line x1="274.6" x2="828.0" y1="753.4" y2="753.4" stroke-width="2.4"/><line x1="164.7" x2="274.6" y1="783.4" y2="783.4" stroke-width="4.5" stroke-opacity="0.12"/><line x1="274.6" x2="828.0" y1="783.4" y2="783.4" stroke-width="4.5"/><line x1="164.7" x2="274.6" y1="813.4" y2="813.4" stroke-width="2.4" stroke-opacity="0.12"/><line x1="274.6" x2="828.0" y1="813.4" y2="813.4" stroke-width="2.4"/><line x1="164.7" x2="274.6" y1="843.4" y2="843.4" stroke-width="4.5" stroke-opacity="0.12"/><line x1="274.6" x2="828.0" y1="843.4" y2="843.4" stroke-width="4.5"/><line x1="164.7" x2="274.6" y1="873.4" y2="873.4" stroke-width="2.4" stroke-opacity="0.12"/><line x1="274.6" x2="828.0" y1="873.4" y2="873.4" stroke-width="2.4"/><line x1="164.7" x2="274.6" y1="903.4" y2="903.4" stroke-width="4.5" stroke-opacity="0.12"/><line x1="274.6" x2="828.0" y1="903.4" y2="903.4" stroke-width="4.5"/><line x1="164.7" x2="274.6" y1="933.4" y2="933.4" stroke-width="2.4" stroke-opacity="0.12"/><line x1="274.6" x2="828.0" y1="933.4" y2="933.4" stroke-width="2.4"/><line x1="164.7" x2="274.6" y1="963.4" y2="963.4" stroke-width="2.4" stroke-opacity="0.12"/><line x1="274.6" x2="828.0" y1="963.4" y2="963.4" stroke-width="2.4"/><line x1="219.1" x2="219.1" y1="569.2" y2="977.2" stroke-width="6" stroke-opacity="0.22"/><line x1="330.2" x2="330.2" y1="569.2" y2="977.2" stroke-width="6"/><line x1="441.3" x2="441.3" y1="569.2" y2="977.2" stroke-width="6"/><line x1="552.4" x2="552.4" y1="569.2" y2="977.2" stroke-width="6"/><line x1="663.5" x2="663.5" y1="569.2" y2="977.2" stroke-width="6"/><line x1="774.6" x2="774.6" y1="569.2" y2="977.2" stroke-width="6"/></g>
<g stroke="#fff" stroke-opacity="0.5" stroke-width="1"><line x1="274.6" x2="274.6" y1="569.2" y2="977.2"/><line x1="385.8" x2="385.8" y1="569.2" y2="977.2"/><line x1="496.8" x2="496.8" y1="569.2" y2="977.2"/><line x1="607.9" x2="607.9" y1="569.2" y2="977.2"/><line x1="719.0" x2="719.0" y1="569.2" y2="977.2"/></g>
<line x1="183.2" x2="183.2" y1="718.5" y2="857.7" stroke="#E41A1C" stroke-width="5.8" stroke-linecap="round"/>
<rect x="176.9" y="766.4" width="12.6" height="47.9" rx="2" fill="#E41A1C"/>
<rect x="181.6" y="772.4" width="3.2" height="15.9" fill="#fff" fill-opacity="0.75"/>
<rect x="181.6" y="794.3" width="3.2" height="14.0" fill="#fff" fill-opacity="0.45"/>
<line x1="195.1" x2="195.1" y1="732.7" y2="896.5" stroke="#5A6A99" stroke-width="5.8" stroke-linecap="round"/>
<rect x="188.8" y="792.6" width="12.6" height="61.3" rx="2" fill="#5A6A99"/>
<rect x="193.7" y="797.6" width="2.8" height="51.3" fill="#fff" fill-opacity="0.18"/>
<rect x="193.6" y="817.5" width="3" height="4.5" fill="#fff" fill-opacity="0.8"/>
<line x1="207.4" x2="207.4" y1="655.0" y2="896.5" stroke="#449B76" stroke-width="5.8" stroke-linecap="round"/>
<rect x="201.1" y="745.5" width="12.6" height="85.2" rx="2" fill="#449B76"/>
<rect x="205.8" y="751.5" width="3.2" height="35.3" fill="#fff" fill-opacity="0.75"/>
<rect x="205.8" y="792.8" width="3.2" height="31.9" fill="#fff" fill-opacity="0.45"/>
<line x1="219.3" x2="219.3" y1="752.9" y2="842.0" stroke="#6B886D" stroke-width="5.8" stroke-linecap="round"/>
<rect x="213.0" y="764.2" width="12.6" height="38.1" rx="2" fill="#6B886D"/>
<rect x="217.7" y="770.2" width="3.2" height="10.8" fill="#fff" fill-opacity="0.75"/>
<rect x="217.7" y="787.0" width="3.2" height="9.3" fill="#fff" fill-opacity="0.45"/>
<line x1="231.3" x2="231.3" y1="746.9" y2="849.5" stroke="#FF7F00" stroke-width="5.8" stroke-linecap="round"/>
<rect x="225.0" y="786.6" width="12.6" height="38.9" rx="2" fill="#FF7F00"/>
<rect x="229.9" y="791.6" width="2.8" height="28.9" fill="#fff" fill-opacity="0.18"/>
<rect x="229.8" y="799.8" width="3" height="4.5" fill="#fff" fill-opacity="0.8"/>
<line x1="243.2" x2="243.2" y1="773.8" y2="920.4" stroke="#C9992C" stroke-width="5.8" stroke-linecap="round"/>
<rect x="236.9" y="800.8" width="12.6" height="59.8" rx="2" fill="#C9992C"/>
<rect x="241.6" y="806.8" width="3.2" height="22.1" fill="#fff" fill-opacity="0.75"/>
<rect x="241.6" y="834.9" width="3.2" height="19.7" fill="#fff" fill-opacity="0.45"/>
<line x1="255.2" x2="255.2" y1="766.4" y2="854.0" stroke="#C66764" stroke-width="5.8" stroke-linecap="round"/>
<rect x="248.9" y="776.2" width="12.6" height="53.0" rx="2" fill="#C66764"/>
<rect x="253.3" y="781.2" width="3.8" height="20.1" fill="#fff"/>
<rect x="253.3" y="806.3" width="3.8" height="17.9" fill="#fff" fill-opacity="0.85"/>
<line x1="300.2" x2="300.2" y1="776.1" y2="871.1" stroke="#E41A1C" stroke-width="5.8" stroke-linecap="round"/>
<rect x="293.9" y="790.4" width="12.6" height="59.0" rx="2" fill="#E41A1C"/>
<rect x="298.3" y="795.4" width="3.8" height="23.2" fill="#fff"/>
<rect x="298.3" y="823.6" width="3.8" height="20.8" fill="#fff" fill-opacity="0.85"/>
<line x1="312.1" x2="312.1" y1="767.1" y2="863.7" stroke="#5A6A99" stroke-width="5.8" stroke-linecap="round"/>
<rect x="305.8" y="793.3" width="12.6" height="43.4" rx="2" fill="#5A6A99"/>
<rect x="310.7" y="798.3" width="2.8" height="33.4" fill="#fff" fill-opacity="0.18"/>
<rect x="310.6" y="808.9" width="3" height="4.5" fill="#fff" fill-opacity="0.8"/>
<line x1="324.4" x2="324.4" y1="782.8" y2="856.9" stroke="#449B76" stroke-width="5.8" stroke-linecap="round"/>
<rect x="318.1" y="801.6" width="12.6" height="35.8" rx="2" fill="#449B76"/>
<rect x="323.0" y="806.6" width="2.8" height="25.8" fill="#fff" fill-opacity="0.18"/>
<rect x="322.9" y="813.2" width="3" height="4.5" fill="#fff" fill-opacity="0.8"/>
<line x1="336.3" x2="336.3" y1="782.0" y2="860.7" stroke="#6B886D" stroke-width="5.8" stroke-linecap="round"/>
<rect x="330.0" y="805.3" width="12.6" height="31.4" rx="2" fill="#6B886D"/>
<rect x="334.9" y="810.3" width="2.8" height="21.4" fill="#fff" fill-opacity="0.18"/>
<rect x="334.8" y="814.6" width="3" height="4.5" fill="#fff" fill-opacity="0.8"/>
<line x1="348.3" x2="348.3" y1="749.9" y2="902.5" stroke="#C66764" stroke-width="5.8" stroke-linecap="round"/>
<rect x="342.0" y="753.7" width="12.6" height="103.2" rx="2" fill="#C66764"/>
<rect x="346.4" y="758.7" width="3.8" height="46.2" fill="#fff"/>
<rect x="346.4" y="809.9" width="3.8" height="42.0" fill="#fff" fill-opacity="0.85"/>
<line x1="360.2" x2="360.2" y1="705.1" y2="892.1" stroke="#999999" stroke-width="5.8" stroke-linecap="round"/>
<rect x="353.9" y="765.7" width="12.6" height="54.5" rx="2" fill="#999999"/>
<rect x="358.8" y="770.7" width="2.8" height="44.5" fill="#fff" fill-opacity="0.18"/>
<rect x="358.7" y="787.0" width="3" height="4.5" fill="#fff" fill-opacity="0.8"/>
<line x1="435.5" x2="435.5" y1="767.7" y2="836.6" stroke="#5A6A99" stroke-width="5.8" stroke-linecap="round"/>
<rect x="429.2" y="790.7" width="12.6" height="31.8" rx="2" fill="#5A6A99"/>
<rect x="434.1" y="795.7" width="2.8" height="21.8" fill="#fff" fill-opacity="0.18"/>
<rect x="434.0" y="800.2" width="3" height="4.5" fill="#fff" fill-opacity="0.8"/>
<line x1="447.2" x2="447.2" y1="759.7" y2="851.5" stroke="#449B76" stroke-width="5.8" stroke-linecap="round"/>
<rect x="440.9" y="790.7" width="12.6" height="33.8" rx="2" fill="#449B76"/>
<rect x="445.8" y="795.7" width="2.8" height="23.8" fill="#fff" fill-opacity="0.18"/>
<rect x="445.7" y="801.3" width="3" height="4.5" fill="#fff" fill-opacity="0.8"/>
<line x1="546.4" x2="546.4" y1="812.5" y2="868.1" stroke="#E41A1C" stroke-width="5.8" stroke-linecap="round"/>
<rect x="540.1" y="818.5" width="12.6" height="24.0" rx="2" fill="#E41A1C"/>
<rect x="545.0" y="823.5" width="2.8" height="14.0" fill="#fff" fill-opacity="0.18"/>
<rect x="544.9" y="824.0" width="3" height="4.5" fill="#fff" fill-opacity="0.8"/>
<line x1="558.4" x2="558.4" y1="768.3" y2="865.5" stroke="#C9992C" stroke-width="5.8" stroke-linecap="round"/>
<rect x="552.1" y="800.6" width="12.6" height="42.5" rx="2" fill="#C9992C"/>
<rect x="557.0" y="805.6" width="2.8" height="32.5" fill="#fff" fill-opacity="0.18"/>
<rect x="556.9" y="815.7" width="3" height="4.5" fill="#fff" fill-opacity="0.8"/>
<line x1="663.4" x2="663.4" y1="785.6" y2="894.4" stroke="#C9992C" stroke-width="5.8" stroke-linecap="round"/>
<rect x="657.1" y="817.6" width="12.6" height="41.8" rx="2" fill="#C9992C"/>
<rect x="662.0" y="822.6" width="2.8" height="31.8" fill="#fff" fill-opacity="0.18"/>
<rect x="661.9" y="832.3" width="3" height="4.5" fill="#fff" fill-opacity="0.8"/>
<g fill="#E41A1C" fill-opacity="0.4"><circle cx="180.3" cy="830.5" r="2"/><circle cx="185.6" cy="825.3" r="2"/><circle cx="185.9" cy="729.7" r="2"/><circle cx="182.6" cy="829.0" r="2"/><circle cx="184.2" cy="770.1" r="2"/><circle cx="183.7" cy="773.9" r="2"/><circle cx="180.2" cy="803.5" r="2"/><circle cx="184.6" cy="822.0" r="2"/><circle cx="184.6" cy="848.5" r="2"/><circle cx="184.8" cy="810.4" r="2"/><circle cx="183.2" cy="743.4" r="2"/><circle cx="186.0" cy="844.6" r="2"/><circle cx="185.7" cy="719.3" r="2"/><circle cx="182.6" cy="807.6" r="2"/><circle cx="185.6" cy="735.1" r="2"/><circle cx="183.8" cy="752.9" r="2"/><circle cx="183.6" cy="727.4" r="2"/><circle cx="181.9" cy="772.7" r="2"/><circle cx="180.1" cy="740.4" r="2"/><circle cx="183.9" cy="841.5" r="2"/></g>
<g fill="#5A6A99" fill-opacity="0.4"><circle cx="195.6" cy="731.7" r="2"/><circle cx="193.1" cy="859.3" r="2"/><circle cx="197.4" cy="886.6" r="2"/><circle cx="198.3" cy="821.1" r="2"/><circle cx="192.1" cy="767.3" r="2"/><circle cx="193.0" cy="792.9" r="2"/><circle cx="192.6" cy="889.4" r="2"/><circle cx="197.5" cy="790.0" r="2"/><circle cx="192.4" cy="737.7" r="2"/><circle cx="194.2" cy="817.8" r="2"/><circle cx="196.2" cy="734.4" r="2"/><circle cx="192.2" cy="871.8" r="2"/><circle cx="192.6" cy="752.3" r="2"/><circle cx="196.1" cy="810.4" r="2"/><circle cx="197.3" cy="775.2" r="2"/><circle cx="197.7" cy="746.9" r="2"/><circle cx="192.6" cy="768.4" r="2"/><circle cx="195.5" cy="764.6" r="2"/><circle cx="192.5" cy="880.9" r="2"/><circle cx="195.3" cy="833.2" r="2"/><circle cx="197.0" cy="810.4" r="2"/><circle cx="197.7" cy="773.0" r="2"/><circle cx="194.4" cy="786.1" r="2"/><circle cx="195.4" cy="815.0" r="2"/></g>
<g fill="#449B76" fill-opacity="0.4"><circle cx="209.5" cy="826.3" r="2"/><circle cx="204.9" cy="876.0" r="2"/><circle cx="209.2" cy="698.2" r="2"/><circle cx="205.8" cy="845.4" r="2"/><circle cx="209.8" cy="869.7" r="2"/><circle cx="204.9" cy="668.5" r="2"/><circle cx="209.8" cy="676.5" r="2"/><circle cx="205.7" cy="866.3" r="2"/><circle cx="205.4" cy="871.5" r="2"/><circle cx="207.6" cy="767.6" r="2"/><circle cx="204.9" cy="794.4" r="2"/><circle cx="210.0" cy="667.8" r="2"/><circle cx="207.4" cy="844.9" r="2"/><circle cx="209.4" cy="815.4" r="2"/><circle cx="205.7" cy="668.7" r="2"/><circle cx="208.4" cy="829.1" r="2"/><circle cx="205.0" cy="761.7" r="2"/><circle cx="205.9" cy="668.5" r="2"/><circle cx="207.1" cy="804.4" r="2"/><circle cx="210.2" cy="808.4" r="2"/><circle cx="205.8" cy="771.8" r="2"/><circle cx="210.5" cy="872.2" r="2"/><circle cx="210.1" cy="767.5" r="2"/><circle cx="204.9" cy="760.1" r="2"/><circle cx="210.2" cy="781.7" r="2"/><circle cx="205.5" cy="822.2" r="2"/><circle cx="210.4" cy="677.0" r="2"/><circle cx="208.1" cy="811.3" r="2"/><circle cx="210.0" cy="830.1" r="2"/><circle cx="207.3" cy="842.4" r="2"/><circle cx="205.1" cy="694.1" r="2"/><circle cx="205.9" cy="786.1" r="2"/><circle cx="206.7" cy="874.0" r="2"/><circle cx="204.1" cy="860.4" r="2"/><circle cx="209.8" cy="682.2" r="2"/></g>
<g fill="#6B886D" fill-opacity="0.4"><circle cx="218.0" cy="801.6" r="2"/><circle cx="218.5" cy="806.9" r="2"/><circle cx="221.9" cy="803.2" r="2"/><circle cx="220.7" cy="797.9" r="2"/><circle cx="218.6" cy="792.5" r="2"/><circle cx="217.4" cy="806.2" r="2"/><circle cx="221.9" cy="800.3" r="2"/><circle cx="218.3" cy="819.5" r="2"/><circle cx="216.3" cy="762.5" r="2"/><circle cx="217.3" cy="790.1" r="2"/><circle cx="217.4" cy="790.3" r="2"/><circle cx="216.8" cy="820.4" r="2"/><circle cx="218.7" cy="812.4" r="2"/></g>
<g fill="#FF7F00" fill-opacity="0.4"><circle cx="234.4" cy="819.1" r="2"/><circle cx="228.4" cy="792.3" r="2"/><circle cx="233.9" cy="792.6" r="2"/><circle cx="232.1" cy="795.1" r="2"/><circle cx="228.7" cy="749.9" r="2"/><circle cx="232.8" cy="750.4" r="2"/><circle cx="233.9" cy="781.9" r="2"/><circle cx="228.5" cy="810.7" r="2"/><circle cx="231.9" cy="850.5" r="2"/><circle cx="228.9" cy="748.5" r="2"/><circle cx="233.8" cy="832.4" r="2"/><circle cx="229.1" cy="823.8" r="2"/><circle cx="232.0" cy="779.8" r="2"/><circle cx="232.5" cy="840.2" r="2"/><circle cx="229.9" cy="801.4" r="2"/></g>
<g fill="#C9992C" fill-opacity="0.4"><circle cx="242.6" cy="856.7" r="2"/><circle cx="241.2" cy="811.7" r="2"/><circle cx="243.0" cy="776.4" r="2"/><circle cx="240.7" cy="893.4" r="2"/><circle cx="244.9" cy="921.5" r="2"/><circle cx="242.0" cy="882.8" r="2"/><circle cx="243.8" cy="888.1" r="2"/><circle cx="240.0" cy="846.1" r="2"/><circle cx="244.2" cy="783.4" r="2"/><circle cx="245.7" cy="783.2" r="2"/><circle cx="245.4" cy="784.7" r="2"/><circle cx="244.0" cy="858.9" r="2"/><circle cx="240.1" cy="860.2" r="2"/><circle cx="242.0" cy="865.2" r="2"/><circle cx="242.6" cy="899.9" r="2"/><circle cx="243.5" cy="774.0" r="2"/><circle cx="245.0" cy="870.4" r="2"/><circle cx="245.8" cy="913.0" r="2"/><circle cx="240.6" cy="838.8" r="2"/><circle cx="244.4" cy="813.8" r="2"/><circle cx="241.7" cy="851.3" r="2"/></g>
<g fill="#C66764" fill-opacity="0.4"><circle cx="257.2" cy="774.2" r="2"/><circle cx="255.8" cy="813.7" r="2"/><circle cx="254.2" cy="825.1" r="2"/><circle cx="257.4" cy="790.2" r="2"/><circle cx="253.1" cy="824.7" r="2"/><circle cx="258.1" cy="853.3" r="2"/><circle cx="252.5" cy="813.8" r="2"/><circle cx="252.4" cy="828.5" r="2"/><circle cx="255.7" cy="835.2" r="2"/><circle cx="257.1" cy="830.6" r="2"/><circle cx="258.4" cy="850.4" r="2"/><circle cx="256.7" cy="830.7" r="2"/><circle cx="255.8" cy="827.3" r="2"/></g>
<g fill="#E41A1C" fill-opacity="0.4"><circle cx="299.8" cy="839.8" r="2"/><circle cx="298.4" cy="818.8" r="2"/><circle cx="301.9" cy="848.1" r="2"/><circle cx="297.2" cy="814.8" r="2"/><circle cx="299.7" cy="832.8" r="2"/><circle cx="299.7" cy="871.4" r="2"/><circle cx="298.4" cy="823.0" r="2"/><circle cx="297.2" cy="859.5" r="2"/><circle cx="303.0" cy="858.7" r="2"/><circle cx="299.1" cy="818.3" r="2"/><circle cx="297.2" cy="799.6" r="2"/><circle cx="298.2" cy="848.2" r="2"/><circle cx="298.4" cy="842.5" r="2"/><circle cx="299.8" cy="800.3" r="2"/></g>
<g fill="#5A6A99" fill-opacity="0.4"><circle cx="314.1" cy="831.5" r="2"/><circle cx="311.1" cy="812.9" r="2"/><circle cx="314.8" cy="860.0" r="2"/><circle cx="312.4" cy="801.0" r="2"/><circle cx="309.3" cy="771.2" r="2"/><circle cx="309.5" cy="861.1" r="2"/><circle cx="309.9" cy="794.8" r="2"/><circle cx="312.5" cy="768.2" r="2"/><circle cx="315.2" cy="846.5" r="2"/><circle cx="310.5" cy="773.2" r="2"/><circle cx="312.8" cy="767.2" r="2"/><circle cx="309.9" cy="770.6" r="2"/><circle cx="314.9" cy="833.5" r="2"/><circle cx="311.8" cy="780.5" r="2"/></g>
<g fill="#449B76" fill-opacity="0.4"><circle cx="325.0" cy="816.7" r="2"/><circle cx="322.4" cy="822.0" r="2"/><circle cx="327.2" cy="800.0" r="2"/><circle cx="321.7" cy="813.1" r="2"/><circle cx="323.2" cy="792.9" r="2"/><circle cx="322.5" cy="834.5" r="2"/><circle cx="325.1" cy="789.5" r="2"/><circle cx="325.9" cy="824.7" r="2"/><circle cx="326.6" cy="846.1" r="2"/><circle cx="325.9" cy="823.6" r="2"/><circle cx="325.5" cy="835.1" r="2"/></g>
<g fill="#6B886D" fill-opacity="0.4"><circle cx="336.3" cy="781.8" r="2"/><circle cx="338.5" cy="822.9" r="2"/><circle cx="333.9" cy="781.2" r="2"/><circle cx="337.3" cy="818.9" r="2"/><circle cx="335.7" cy="822.2" r="2"/><circle cx="333.7" cy="821.9" r="2"/><circle cx="335.6" cy="846.5" r="2"/><circle cx="333.7" cy="821.8" r="2"/><circle cx="337.5" cy="851.7" r="2"/><circle cx="337.7" cy="838.5" r="2"/><circle cx="339.4" cy="825.6" r="2"/><circle cx="335.2" cy="819.8" r="2"/></g>
<g fill="#C66764" fill-opacity="0.4"><circle cx="349.4" cy="880.5" r="2"/><circle cx="349.7" cy="846.0" r="2"/><circle cx="346.2" cy="761.6" r="2"/><circle cx="348.7" cy="880.0" r="2"/><circle cx="347.1" cy="781.9" r="2"/><circle cx="349.8" cy="818.4" r="2"/><circle cx="350.5" cy="881.4" r="2"/><circle cx="345.1" cy="856.8" r="2"/><circle cx="350.9" cy="771.8" r="2"/><circle cx="349.2" cy="817.5" r="2"/><circle cx="348.5" cy="816.7" r="2"/><circle cx="345.5" cy="901.3" r="2"/><circle cx="346.2" cy="844.6" r="2"/><circle cx="350.5" cy="843.4" r="2"/><circle cx="349.1" cy="866.1" r="2"/><circle cx="350.2" cy="801.6" r="2"/><circle cx="350.3" cy="767.5" r="2"/><circle cx="350.6" cy="761.3" r="2"/><circle cx="350.8" cy="859.6" r="2"/><circle cx="350.2" cy="773.8" r="2"/><circle cx="350.7" cy="810.8" r="2"/><circle cx="346.9" cy="875.6" r="2"/></g>
<g fill="#999999" fill-opacity="0.4"><circle cx="358.4" cy="802.0" r="2"/><circle cx="360.7" cy="760.4" r="2"/><circle cx="358.3" cy="716.0" r="2"/><circle cx="360.2" cy="761.2" r="2"/><circle cx="357.4" cy="756.8" r="2"/><circle cx="358.9" cy="888.0" r="2"/><circle cx="362.4" cy="799.3" r="2"/><circle cx="361.0" cy="775.4" r="2"/><circle cx="361.8" cy="771.4" r="2"/><circle cx="363.3" cy="875.3" r="2"/><circle cx="361.2" cy="865.4" r="2"/><circle cx="361.1" cy="844.1" r="2"/><circle cx="360.9" cy="769.8" r="2"/><circle cx="363.1" cy="765.9" r="2"/><circle cx="357.8" cy="890.8" r="2"/><circle cx="361.3" cy="722.5" r="2"/><circle cx="361.2" cy="804.1" r="2"/><circle cx="362.2" cy="707.5" r="2"/><circle cx="361.8" cy="810.3" r="2"/><circle cx="358.6" cy="817.3" r="2"/><circle cx="361.7" cy="773.3" r="2"/><circle cx="363.0" cy="892.0" r="2"/><circle cx="359.0" cy="739.4" r="2"/><circle cx="362.9" cy="747.2" r="2"/><circle cx="362.4" cy="858.3" r="2"/><circle cx="361.7" cy="783.2" r="2"/><circle cx="361.1" cy="844.0" r="2"/></g>
<g fill="#5A6A99" fill-opacity="0.4"><circle cx="433.4" cy="817.5" r="2"/><circle cx="437.3" cy="775.6" r="2"/><circle cx="438.5" cy="789.3" r="2"/><circle cx="437.8" cy="785.0" r="2"/><circle cx="438.2" cy="836.7" r="2"/><circle cx="434.9" cy="814.5" r="2"/><circle cx="438.0" cy="821.3" r="2"/><circle cx="435.3" cy="784.6" r="2"/><circle cx="436.1" cy="802.3" r="2"/><circle cx="433.7" cy="835.6" r="2"/></g>
<g fill="#449B76" fill-opacity="0.4"><circle cx="445.5" cy="810.8" r="2"/><circle cx="445.1" cy="757.9" r="2"/><circle cx="444.6" cy="780.7" r="2"/><circle cx="447.3" cy="835.6" r="2"/><circle cx="446.9" cy="800.4" r="2"/><circle cx="448.4" cy="764.7" r="2"/><circle cx="447.1" cy="788.4" r="2"/><circle cx="445.2" cy="829.8" r="2"/><circle cx="444.2" cy="827.1" r="2"/><circle cx="445.8" cy="807.1" r="2"/><circle cx="445.7" cy="760.5" r="2"/><circle cx="449.2" cy="848.9" r="2"/><circle cx="450.1" cy="770.0" r="2"/></g>
<g fill="#E41A1C" fill-opacity="0.4"><circle cx="545.1" cy="823.5" r="2"/><circle cx="549.6" cy="813.0" r="2"/><circle cx="549.4" cy="822.3" r="2"/><circle cx="544.2" cy="840.0" r="2"/><circle cx="548.6" cy="812.2" r="2"/><circle cx="545.7" cy="836.4" r="2"/><circle cx="543.9" cy="853.4" r="2"/><circle cx="546.0" cy="859.2" r="2"/></g>
<g fill="#C9992C" fill-opacity="0.4"><circle cx="559.3" cy="850.1" r="2"/><circle cx="560.1" cy="866.2" r="2"/><circle cx="557.6" cy="813.2" r="2"/><circle cx="561.0" cy="802.8" r="2"/><circle cx="557.3" cy="788.7" r="2"/><circle cx="559.6" cy="822.6" r="2"/><circle cx="560.9" cy="795.8" r="2"/><circle cx="560.6" cy="816.6" r="2"/><circle cx="557.2" cy="860.8" r="2"/><circle cx="561.4" cy="818.6" r="2"/><circle cx="559.8" cy="816.5" r="2"/><circle cx="555.5" cy="818.4" r="2"/><circle cx="559.6" cy="783.9" r="2"/><circle cx="560.3" cy="855.4" r="2"/></g>
<g fill="#C9992C" fill-opacity="0.4"><circle cx="666.2" cy="794.2" r="2"/><circle cx="661.6" cy="870.2" r="2"/><circle cx="664.2" cy="859.8" r="2"/><circle cx="664.0" cy="896.1" r="2"/><circle cx="662.5" cy="828.9" r="2"/><circle cx="664.9" cy="871.0" r="2"/><circle cx="664.0" cy="833.6" r="2"/><circle cx="665.6" cy="807.6" r="2"/><circle cx="663.2" cy="820.5" r="2"/><circle cx="660.9" cy="816.8" r="2"/><circle cx="664.0" cy="804.0" r="2"/><circle cx="662.3" cy="878.0" r="2"/><circle cx="663.6" cy="794.4" r="2"/><circle cx="663.2" cy="828.6" r="2"/><circle cx="663.2" cy="790.5" r="2"/><circle cx="664.8" cy="788.8" r="2"/></g>
<circle cx="219.3" cy="905.4" r="3.4" fill="#6B886D" fill-opacity="0.5"/>
<circle cx="231.3" cy="875.5" r="3.4" fill="#FF7F00" fill-opacity="0.5"/>
<circle cx="324.4" cy="706.4" r="3.4" fill="#449B76" fill-opacity="0.5"/>
<circle cx="435.5" cy="873.9" r="3.4" fill="#5A6A99" fill-opacity="0.5"/>
<path d="M180.0 891.8L186.39999999999998 898.2M180.0 898.2L186.39999999999998 891.8" stroke="#E41A1C" stroke-opacity="0.6" stroke-width="2.6"/>
<path d="M191.9 895.3L198.29999999999998 901.7M191.9 901.7L198.29999999999998 895.3" stroke="#5A6A99" stroke-opacity="0.6" stroke-width="2.6"/>
<path d="M321.2 920.0999999999999L327.59999999999997 926.5M321.2 926.5L327.59999999999997 920.0999999999999" stroke="#449B76" stroke-opacity="0.6" stroke-width="2.6"/>
<path d="M357.0 909.6999999999999L363.4 916.1M357.0 916.1L363.4 909.6999999999999" stroke="#999999" stroke-opacity="0.6" stroke-width="2.6"/>
<path d="M357.0 920.9L363.4 927.3000000000001M357.0 927.3000000000001L363.4 920.9" stroke="#999999" stroke-opacity="0.6" stroke-width="2.6"/>
<path d="M660.1999999999999 932.3L666.6 938.7M660.1999999999999 938.7L666.6 932.3" stroke="#C9992C" stroke-opacity="0.6" stroke-width="2.6"/>
<line x1="191.1" x2="247.1" y1="820.2" y2="820.2" stroke="#3A55A0" stroke-width="3.2"/>
<line x1="302.2" x2="358.2" y1="811.3" y2="811.3" stroke="#3A55A0" stroke-width="3.2"/>
<line x1="413.3" x2="469.3" y1="812.6" y2="812.6" stroke="#3A55A0" stroke-width="3.2"/>
<line x1="524.4" x2="580.4" y1="825.5" y2="825.5" stroke="#3A55A0" stroke-width="3.2"/>
<line x1="635.5" x2="691.5" y1="843.9" y2="843.9" stroke="#3A55A0" stroke-width="3.2"/>
<line x1="169.7" x2="826.6" y1="818.1" y2="818.1" stroke="#000" stroke-width="2.3" stroke-dasharray="7.4 4 2.4 3.8" stroke-dashoffset="2"/>
<line x1="164.7" x2="828.0" y1="723.4" y2="723.4" stroke="#000" stroke-width="5.3"/>
<rect x="164.7" y="569.2" width="663.3" height="408.0" fill="none" stroke="#333333" stroke-width="2.8"/>
</g>
<rect x="164.7" y="519.5" width="663.3" height="48.1" fill="#F0F8FC" stroke="#333333" stroke-width="2.8"/>
<text x="496.4" y="549.6" font-size="18.3" text-anchor="middle" fill="#1a1a1a" font-weight="bold" >Beta (B.1.351)</text>
<line x1="153.2" x2="163.2" y1="603.4" y2="603.4" stroke="#333333" stroke-width="3.8"/>
<text x="146.0" y="612.7" font-size="25.5" text-anchor="end" fill="#3d3d3d" textLength="80.5" lengthAdjust="spacingAndGlyphs" stroke="#fff" stroke-width="0.5">0.0625</text>
<line x1="153.2" x2="163.2" y1="663.4" y2="663.4" stroke="#333333" stroke-width="3.8"/>
<text x="146.0" y="672.7" font-size="25.5" text-anchor="end" fill="#3d3d3d" textLength="51.5" lengthAdjust="spacingAndGlyphs" stroke="#fff" stroke-width="0.5">0.25</text>
<line x1="153.2" x2="163.2" y1="723.4" y2="723.4" stroke="#333333" stroke-width="3.8"/>
<text x="146.0" y="732.7" font-size="25.5" text-anchor="end" fill="#3d3d3d" stroke="#fff" stroke-width="0.5">1</text>
<line x1="153.2" x2="163.2" y1="783.4" y2="783.4" stroke="#333333" stroke-width="3.8"/>
<text x="146.0" y="792.7" font-size="25.5" text-anchor="end" fill="#3d3d3d" stroke="#fff" stroke-width="0.5">4</text>
<line x1="153.2" x2="163.2" y1="843.4" y2="843.4" stroke="#333333" stroke-width="3.8"/>
<text x="146.0" y="852.7" font-size="25.5" text-anchor="end" fill="#3d3d3d" textLength="27.5" lengthAdjust="spacingAndGlyphs" stroke="#fff" stroke-width="0.5">16</text>
<line x1="153.2" x2="163.2" y1="903.4" y2="903.4" stroke="#333333" stroke-width="3.8"/>
<text x="146.0" y="912.7" font-size="25.5" text-anchor="end" fill="#3d3d3d" textLength="29.5" lengthAdjust="spacingAndGlyphs" stroke="#fff" stroke-width="0.5">64</text>
<rect x="985.6" y="569.2" width="496.9" height="408.0" fill="#fff"/>
<g stroke="#EBEBEB"><line x1="1007.5" x2="1007.5" y1="569.2" y2="977.2" stroke-width="4.3"/><line x1="1047.8" x2="1047.8" y1="569.2" y2="977.2" stroke-width="2.1"/><line x1="1088.2" x2="1088.2" y1="569.2" y2="977.2" stroke-width="4.3"/><line x1="1128.5" x2="1128.5" y1="569.2" y2="977.2" stroke-width="2.1"/><line x1="1168.9" x2="1168.9" y1="569.2" y2="977.2" stroke-width="4.3"/><line x1="1209.2" x2="1209.2" y1="569.2" y2="977.2" stroke-width="2.1"/><line x1="1249.6" x2="1249.6" y1="569.2" y2="977.2" stroke-width="4.3"/><line x1="1289.9" x2="1289.9" y1="569.2" y2="977.2" stroke-width="2.1"/><line x1="1330.3" x2="1330.3" y1="569.2" y2="977.2" stroke-width="4.3"/><line x1="1370.6" x2="1370.6" y1="569.2" y2="977.2" stroke-width="2.1"/><line x1="1411.0" x2="1411.0" y1="569.2" y2="977.2" stroke-width="4.3"/><line x1="1451.3" x2="1451.3" y1="569.2" y2="977.2" stroke-width="2.1"/><line x1="985.6" x2="1482.5" y1="959.5" y2="959.5" stroke-width="4.3"/><line x1="985.6" x2="1482.5" y1="926.4" y2="926.4" stroke-width="2.1"/><line x1="985.6" x2="1482.5" y1="893.2" y2="893.2" stroke-width="4.3"/><line x1="985.6" x2="1482.5" y1="860.0" y2="860.0" stroke-width="2.1"/><line x1="985.6" x2="1482.5" y1="826.9" y2="826.9" stroke-width="4.3"/><line x1="985.6" x2="1482.5" y1="793.8" y2="793.8" stroke-width="2.1"/><line x1="985.6" x2="1482.5" y1="760.6" y2="760.6" stroke-width="4.3"/><line x1="985.6" x2="1482.5" y1="727.4" y2="727.4" stroke-width="2.1"/><line x1="985.6" x2="1482.5" y1="694.3" y2="694.3" stroke-width="4.3"/><line x1="985.6" x2="1482.5" y1="661.1" y2="661.1" stroke-width="2.1"/><line x1="985.6" x2="1482.5" y1="628.0" y2="628.0" stroke-width="4.3"/><line x1="985.6" x2="1482.5" y1="594.9" y2="594.9" stroke-width="2.1"/></g>
<text x="1343.6" y="903.0" font-size="20" text-anchor="middle" fill="#A6D854" stroke="#A6D854" stroke-width="0.8">(1)</text>
<text x="1289.6" y="879.2" font-size="20" text-anchor="middle" fill="#8DA0CB" stroke="#8DA0CB" stroke-width="0.8">(2)</text>
<text x="1316.0" y="866.5" font-size="20" text-anchor="middle" fill="#66C2A5" stroke="#66C2A5" stroke-width="0.8">(7)</text>
<text x="1375.4" y="834.1" font-size="20" text-anchor="middle" fill="#E78AC3" stroke="#E78AC3" stroke-width="0.8">(2)</text>
<text x="1396.6" y="806.8" font-size="20" text-anchor="middle" fill="#FC8D62" stroke="#FC8D62" stroke-width="0.8">(5)</text>
<g stroke="#A6D854" fill="none" stroke-width="4.6"><line x1="1329.3" x2="1382.7" y1="937.9" y2="937.9"/><line x1="1356.3" x2="1356.3" y1="916.3" y2="959.5"/></g>
<g stroke="#8DA0CB" fill="none" stroke-width="4.6"><line x1="1286.4" x2="1319.2" y1="913.4" y2="913.4"/><line x1="1302.3" x2="1302.3" y1="899.2" y2="930"/></g>
<g stroke="#66C2A5" fill="none" stroke-width="4.6"><line x1="1316.6" x2="1340.4" y1="901.4" y2="901.4"/><line x1="1329.3" x2="1329.3" y1="891.8" y2="912.5"/></g>
<g stroke="#E78AC3" fill="none" stroke-width="4.6"><line x1="1375.4" x2="1403.9" y1="870.6" y2="870.6"/><line x1="1388.7" x2="1388.7" y1="860.1" y2="880.7"/></g>
<g stroke="#FC8D62" fill="none" stroke-width="4.6"><line x1="1394.4" x2="1426.2" y1="842.6" y2="842.6"/><line x1="1410.3" x2="1410.3" y1="829.9" y2="856"/></g>
<polygon points="1288.7,925.1 1457.9,786.1 1457.9,808.9 1288.7,947.9" fill="#F4A582" fill-opacity="0.68"/>
<line x1="1019.4" y1="949.7" x2="1458.2" y2="589.2" stroke="#34478B" stroke-width="2.2" stroke-dasharray="6.5 6"/>
<circle cx="1356.3" cy="937.9" r="6.3" stroke-width="4" stroke="#A6D854" fill="none"/>
<circle cx="1302.3" cy="913.4" r="6.3" stroke-width="4" stroke="#8DA0CB" fill="none"/>
<circle cx="1329.3" cy="901.4" r="6.3" stroke-width="4" stroke="#66C2A5" fill="none"/>
<circle cx="1388.7" cy="870.6" r="6.3" stroke-width="4" stroke="#E78AC3" fill="none"/>
<circle cx="1410.3" cy="842.6" r="6.3" stroke-width="4" stroke="#FC8D62" fill="none"/>
<line x1="1270.6" y1="951.4" x2="1457.9" y2="797.5" stroke="#D62728" stroke-width="2.5" stroke-dasharray="9 6"/>
<g stroke="#7B4FA3" fill="none" stroke-width="4.2"><line x1="1330.2" x2="1330.2" y1="704.5" y2="884.5"/><path d="M1322.6 876.0L1330.2 885.0L1337.8 876.0" stroke-width="3.6" stroke-linejoin="miter"/></g>
<text x="1169.0" y="699.3" font-size="14" text-anchor="middle" fill="#9467BD" textLength="136.5" lengthAdjust="spacingAndGlyphs" fill-opacity="0.8">Average drop in IC50</text>
<text x="1169.0" y="732.8" font-size="14" text-anchor="middle" fill="#9467BD" fill-opacity="0.8">for B.1.351 (8.8)</text>
<rect x="985.6" y="569.2" width="496.9" height="408.0" fill="none" stroke="#333333" stroke-width="2.8"/>
<rect x="985.6" y="519.5" width="496.9" height="48.1" fill="#F0F8FC" stroke="#333333" stroke-width="2.8"/>
<text x="1234.0" y="549.6" font-size="18.3" text-anchor="middle" fill="#1a1a1a" font-weight="bold" >Beta (B.1.351)</text>
<line x1="974.8" x2="984.1" y1="628.0" y2="628.0" stroke="#333333" stroke-width="3.8"/>
<text x="967.6" y="637.3" font-size="25.5" text-anchor="end" fill="#3d3d3d" stroke="#fff" stroke-width="0.5">2</text>
<line x1="974.8" x2="984.1" y1="694.3" y2="694.3" stroke="#333333" stroke-width="3.8"/>
<text x="967.6" y="703.6" font-size="25.5" text-anchor="end" fill="#3d3d3d" stroke="#fff" stroke-width="0.5">1</text>
<line x1="974.8" x2="984.1" y1="760.6" y2="760.6" stroke="#333333" stroke-width="3.8"/>
<text x="967.6" y="769.9" font-size="25.5" text-anchor="end" fill="#3d3d3d" textLength="22.5" lengthAdjust="spacingAndGlyphs" stroke="#fff" stroke-width="0.5">.5</text>
<line x1="974.8" x2="984.1" y1="826.9" y2="826.9" stroke="#333333" stroke-width="3.8"/>
<text x="967.6" y="836.2" font-size="25.5" text-anchor="end" fill="#3d3d3d" textLength="37.5" lengthAdjust="spacingAndGlyphs" stroke="#fff" stroke-width="0.5">.25</text>
<line x1="974.8" x2="984.1" y1="893.2" y2="893.2" stroke="#333333" stroke-width="3.8"/>
<text x="967.6" y="902.5" font-size="25.5" text-anchor="end" fill="#3d3d3d" textLength="51.5" lengthAdjust="spacingAndGlyphs" stroke="#fff" stroke-width="0.5">.125</text>
<line x1="974.8" x2="984.1" y1="959.5" y2="959.5" stroke="#333333" stroke-width="3.8"/>
<text x="967.6" y="968.8" font-size="25.5" text-anchor="end" fill="#3d3d3d" textLength="51.5" lengthAdjust="spacingAndGlyphs" stroke="#fff" stroke-width="0.5">.062</text>
<g>
<rect x="164.7" y="1049.1" width="109.9" height="408.0" fill="#C5E6F8"/>
<rect x="274.6" y="1049.1" width="111.1" height="408.0" fill="#F1F2F2"/>
<rect x="385.8" y="1049.1" width="111.1" height="408.0" fill="#F8F8F8"/>
<rect x="496.8" y="1049.1" width="111.1" height="408.0" fill="#F1F2F2"/>
<rect x="607.9" y="1049.1" width="111.1" height="408.0" fill="#F8F8F8"/>
<rect x="719.0" y="1049.1" width="109.0" height="408.0" fill="#F1F2F2"/>
<g stroke="#F5F5F5" stroke-opacity="0.65"><line x1="164.7" x2="274.6" y1="1053.3" y2="1053.3" stroke-width="2.4" stroke-opacity="0.12"/><line x1="274.6" x2="828.0" y1="1053.3" y2="1053.3" stroke-width="2.4"/><line x1="164.7" x2="274.6" y1="1083.3" y2="1083.3" stroke-width="4.5" stroke-opacity="0.12"/><line x1="274.6" x2="828.0" y1="1083.3" y2="1083.3" stroke-width="4.5"/><line x1="164.7" x2="274.6" y1="1113.3" y2="1113.3" stroke-width="2.4" stroke-opacity="0.12"/><line x1="274.6" x2="828.0" y1="1113.3" y2="1113.3" stroke-width="2.4"/><line x1="164.7" x2="274.6" y1="1143.3" y2="1143.3" stroke-width="4.5" stroke-opacity="0.12"/><line x1="274.6" x2="828.0" y1="1143.3" y2="1143.3" stroke-width="4.5"/><line x1="164.7" x2="274.6" y1="1173.3" y2="1173.3" stroke-width="2.4" stroke-opacity="0.12"/><line x1="274.6" x2="828.0" y1="1173.3" y2="1173.3" stroke-width="2.4"/><line x1="164.7" x2="274.6" y1="1203.3" y2="1203.3" stroke-width="4.5" stroke-opacity="0.12"/><line x1="274.6" x2="828.0" y1="1203.3" y2="1203.3" stroke-width="4.5"/><line x1="164.7" x2="274.6" y1="1233.3" y2="1233.3" stroke-width="2.4" stroke-opacity="0.12"/><line x1="274.6" x2="828.0" y1="1233.3" y2="1233.3" stroke-width="2.4"/><line x1="164.7" x2="274.6" y1="1263.3" y2="1263.3" stroke-width="4.5" stroke-opacity="0.12"/><line x1="274.6" x2="828.0" y1="1263.3" y2="1263.3" stroke-width="4.5"/><line x1="164.7" x2="274.6" y1="1293.3" y2="1293.3" stroke-width="2.4" stroke-opacity="0.12"/><line x1="274.6" x2="828.0" y1="1293.3" y2="1293.3" stroke-width="2.4"/><line x1="164.7" x2="274.6" y1="1323.3" y2="1323.3" stroke-width="4.5" stroke-opacity="0.12"/><line x1="274.6" x2="828.0" y1="1323.3" y2="1323.3" stroke-width="4.5"/><line x1="164.7" x2="274.6" y1="1353.3" y2="1353.3" stroke-width="2.4" stroke-opacity="0.12"/><line x1="274.6" x2="828.0" y1="1353.3" y2="1353.3" stroke-width="2.4"/><line x1="164.7" x2="274.6" y1="1383.3" y2="1383.3" stroke-width="4.5" stroke-opacity="0.12"/><line x1="274.6" x2="828.0" y1="1383.3" y2="1383.3" stroke-width="4.5"/><line x1="164.7" x2="274.6" y1="1413.3" y2="1413.3" stroke-width="2.4" stroke-opacity="0.12"/><line x1="274.6" x2="828.0" y1="1413.3" y2="1413.3" stroke-width="2.4"/><line x1="164.7" x2="274.6" y1="1443.3" y2="1443.3" stroke-width="2.4" stroke-opacity="0.12"/><line x1="274.6" x2="828.0" y1="1443.3" y2="1443.3" stroke-width="2.4"/><line x1="219.1" x2="219.1" y1="1049.1" y2="1457.1" stroke-width="6" stroke-opacity="0.22"/><line x1="330.2" x2="330.2" y1="1049.1" y2="1457.1" stroke-width="6"/><line x1="441.3" x2="441.3" y1="1049.1" y2="1457.1" stroke-width="6"/><line x1="552.4" x2="552.4" y1="1049.1" y2="1457.1" stroke-width="6"/><line x1="663.5" x2="663.5" y1="1049.1" y2="1457.1" stroke-width="6"/><line x1="774.6" x2="774.6" y1="1049.1" y2="1457.1" stroke-width="6"/></g>
<g stroke="#fff" stroke-opacity="0.5" stroke-width="1"><line x1="274.6" x2="274.6" y1="1049.1" y2="1457.1"/><line x1="385.8" x2="385.8" y1="1049.1" y2="1457.1"/><line x1="496.8" x2="496.8" y1="1049.1" y2="1457.1"/><line x1="607.9" x2="607.9" y1="1049.1" y2="1457.1"/><line x1="719.0" x2="719.0" y1="1049.1" y2="1457.1"/></g>
<line x1="207.4" x2="207.4" y1="1177.1" y2="1326.1" stroke="#E41A1C" stroke-width="5.8" stroke-linecap="round"/>
<rect x="201.1" y="1204.4" width="12.6" height="67.1" rx="2" fill="#E41A1C"/>
<rect x="205.5" y="1209.4" width="3.8" height="27.4" fill="#fff"/>
<rect x="205.5" y="1241.8" width="3.8" height="24.7" fill="#fff" fill-opacity="0.85"/>
<line x1="219.5" x2="219.5" y1="1208.7" y2="1286.4" stroke="#5A6A99" stroke-width="5.8" stroke-linecap="round"/>
<rect x="213.2" y="1237.3" width="12.6" height="23.2" rx="2" fill="#5A6A99"/>
<rect x="218.1" y="1242.3" width="2.8" height="13.2" fill="#fff" fill-opacity="0.18"/>
<rect x="218.0" y="1242.4" width="3" height="4.5" fill="#fff" fill-opacity="0.8"/>
<line x1="231.2" x2="231.2" y1="1202.6" y2="1352.2" stroke="#AC5782" stroke-width="5.8" stroke-linecap="round"/>
<rect x="224.9" y="1257.8" width="12.6" height="58.9" rx="2" fill="#AC5782"/>
<rect x="229.8" y="1262.8" width="2.8" height="48.9" fill="#fff" fill-opacity="0.18"/>
<rect x="229.7" y="1281.4" width="3" height="4.5" fill="#fff" fill-opacity="0.8"/>
<line x1="324.4" x2="324.4" y1="1214.1" y2="1263.1" stroke="#E41A1C" stroke-width="5.8" stroke-linecap="round"/>
<rect x="318.1" y="1227.7" width="12.6" height="35.6" rx="2" fill="#E41A1C"/>
<rect x="322.5" y="1232.7" width="3.8" height="11.0" fill="#fff"/>
<rect x="322.5" y="1248.7" width="3.8" height="9.6" fill="#fff" fill-opacity="0.85"/>
<line x1="336.2" x2="336.2" y1="1218.2" y2="1279.0" stroke="#5A6A99" stroke-width="5.8" stroke-linecap="round"/>
<rect x="329.9" y="1233.2" width="12.6" height="32.3" rx="2" fill="#5A6A99"/>
<rect x="334.8" y="1238.2" width="2.8" height="22.3" fill="#fff" fill-opacity="0.18"/>
<rect x="334.7" y="1243.0" width="3" height="4.5" fill="#fff" fill-opacity="0.8"/>
<line x1="441.4" x2="441.4" y1="1216.9" y2="1285.0" stroke="#5A6A99" stroke-width="5.8" stroke-linecap="round"/>
<rect x="435.1" y="1229.0" width="12.6" height="27.4" rx="2" fill="#5A6A99"/>
<rect x="440.0" y="1234.0" width="2.8" height="17.4" fill="#fff" fill-opacity="0.18"/>
<rect x="439.9" y="1236.2" width="3" height="4.5" fill="#fff" fill-opacity="0.8"/>
<line x1="552.3" x2="552.3" y1="1213.6" y2="1309.7" stroke="#E41A1C" stroke-width="5.8" stroke-linecap="round"/>
<rect x="546.0" y="1237.3" width="12.6" height="39.7" rx="2" fill="#E41A1C"/>
<rect x="550.7" y="1243.3" width="3.2" height="11.6" fill="#fff" fill-opacity="0.75"/>
<rect x="550.7" y="1260.9" width="3.2" height="10.1" fill="#fff" fill-opacity="0.45"/>
<g fill="#E41A1C" fill-opacity="0.4"><circle cx="206.9" cy="1254.8" r="2"/><circle cx="205.0" cy="1209.0" r="2"/><circle cx="208.2" cy="1249.1" r="2"/><circle cx="208.8" cy="1270.1" r="2"/><circle cx="204.4" cy="1241.7" r="2"/><circle cx="209.3" cy="1209.7" r="2"/><circle cx="207.8" cy="1239.5" r="2"/><circle cx="209.1" cy="1278.6" r="2"/><circle cx="207.2" cy="1200.0" r="2"/><circle cx="210.3" cy="1274.9" r="2"/><circle cx="210.0" cy="1218.1" r="2"/><circle cx="207.6" cy="1304.9" r="2"/><circle cx="210.3" cy="1263.6" r="2"/><circle cx="206.0" cy="1242.5" r="2"/><circle cx="204.8" cy="1297.0" r="2"/><circle cx="208.4" cy="1285.0" r="2"/><circle cx="210.3" cy="1235.0" r="2"/><circle cx="205.1" cy="1268.3" r="2"/><circle cx="210.4" cy="1238.9" r="2"/><circle cx="209.4" cy="1188.2" r="2"/><circle cx="209.4" cy="1259.1" r="2"/><circle cx="204.7" cy="1316.0" r="2"/></g>
<g fill="#5A6A99" fill-opacity="0.4"><circle cx="219.4" cy="1241.6" r="2"/><circle cx="221.7" cy="1246.9" r="2"/><circle cx="217.4" cy="1211.8" r="2"/><circle cx="221.6" cy="1268.0" r="2"/><circle cx="216.8" cy="1284.1" r="2"/><circle cx="216.3" cy="1274.2" r="2"/><circle cx="217.7" cy="1271.3" r="2"/><circle cx="220.4" cy="1281.6" r="2"/><circle cx="217.2" cy="1245.3" r="2"/><circle cx="218.8" cy="1279.4" r="2"/><circle cx="216.4" cy="1283.7" r="2"/></g>
<g fill="#AC5782" fill-opacity="0.4"><circle cx="228.2" cy="1266.7" r="2"/><circle cx="234.2" cy="1242.8" r="2"/><circle cx="228.2" cy="1252.2" r="2"/><circle cx="232.6" cy="1258.3" r="2"/><circle cx="233.3" cy="1311.1" r="2"/><circle cx="231.3" cy="1218.6" r="2"/><circle cx="230.7" cy="1265.5" r="2"/><circle cx="228.6" cy="1292.4" r="2"/><circle cx="233.4" cy="1333.6" r="2"/><circle cx="229.9" cy="1291.0" r="2"/><circle cx="231.7" cy="1205.5" r="2"/><circle cx="234.3" cy="1347.1" r="2"/><circle cx="234.3" cy="1329.8" r="2"/><circle cx="229.9" cy="1308.7" r="2"/><circle cx="232.8" cy="1316.7" r="2"/><circle cx="233.2" cy="1303.2" r="2"/><circle cx="234.0" cy="1329.9" r="2"/><circle cx="233.9" cy="1262.2" r="2"/><circle cx="232.6" cy="1213.6" r="2"/><circle cx="230.0" cy="1298.6" r="2"/><circle cx="230.4" cy="1282.9" r="2"/><circle cx="232.0" cy="1318.9" r="2"/></g>
<g fill="#E41A1C" fill-opacity="0.4"><circle cx="326.5" cy="1247.2" r="2"/><circle cx="321.6" cy="1224.1" r="2"/><circle cx="326.6" cy="1259.2" r="2"/><circle cx="322.2" cy="1224.5" r="2"/><circle cx="322.3" cy="1255.0" r="2"/><circle cx="322.8" cy="1233.2" r="2"/><circle cx="325.1" cy="1221.2" r="2"/></g>
<g fill="#5A6A99" fill-opacity="0.4"><circle cx="335.8" cy="1265.9" r="2"/><circle cx="334.8" cy="1259.5" r="2"/><circle cx="336.4" cy="1230.1" r="2"/><circle cx="339.2" cy="1222.8" r="2"/><circle cx="338.4" cy="1231.7" r="2"/><circle cx="336.6" cy="1241.8" r="2"/><circle cx="334.5" cy="1233.5" r="2"/><circle cx="336.0" cy="1244.3" r="2"/><circle cx="337.4" cy="1216.5" r="2"/></g>
<g fill="#5A6A99" fill-opacity="0.4"><circle cx="442.5" cy="1237.5" r="2"/><circle cx="444.3" cy="1270.9" r="2"/><circle cx="440.3" cy="1249.3" r="2"/><circle cx="441.9" cy="1224.2" r="2"/><circle cx="441.2" cy="1245.8" r="2"/><circle cx="439.2" cy="1244.2" r="2"/><circle cx="438.9" cy="1246.5" r="2"/><circle cx="438.2" cy="1285.2" r="2"/><circle cx="440.1" cy="1238.0" r="2"/><circle cx="441.9" cy="1227.1" r="2"/></g>
<g fill="#E41A1C" fill-opacity="0.4"><circle cx="549.0" cy="1233.9" r="2"/><circle cx="552.0" cy="1226.4" r="2"/><circle cx="549.3" cy="1246.6" r="2"/><circle cx="549.4" cy="1231.7" r="2"/><circle cx="551.4" cy="1296.7" r="2"/><circle cx="554.0" cy="1296.7" r="2"/><circle cx="553.6" cy="1239.3" r="2"/><circle cx="553.2" cy="1262.4" r="2"/><circle cx="551.0" cy="1305.6" r="2"/><circle cx="550.8" cy="1276.5" r="2"/><circle cx="551.5" cy="1241.9" r="2"/><circle cx="555.4" cy="1307.0" r="2"/><circle cx="555.1" cy="1278.0" r="2"/><circle cx="552.4" cy="1233.9" r="2"/></g>
<circle cx="231.2" cy="1413.2" r="3.4" fill="#AC5782" fill-opacity="0.5"/>
<circle cx="324.4" cy="1318.6" r="3.4" fill="#E41A1C" fill-opacity="0.5"/>
<circle cx="336.2" cy="1177.5" r="3.4" fill="#5A6A99" fill-opacity="0.5"/>
<path d="M216.3 1312.1L222.7 1318.5M216.3 1318.5L222.7 1312.1" stroke="#5A6A99" stroke-opacity="0.6" stroke-width="2.6"/>
<path d="M438.2 1310.2L444.59999999999997 1316.6000000000001M438.2 1316.6000000000001L444.59999999999997 1310.2" stroke="#5A6A99" stroke-opacity="0.6" stroke-width="2.6"/>
<line x1="191.1" x2="247.1" y1="1265.2" y2="1265.2" stroke="#3A55A0" stroke-width="3.2"/>
<line x1="302.2" x2="358.2" y1="1246.8" y2="1246.8" stroke="#3A55A0" stroke-width="3.2"/>
<line x1="413.3" x2="469.3" y1="1247.7" y2="1247.7" stroke="#3A55A0" stroke-width="3.2"/>
<line x1="524.4" x2="580.4" y1="1259.2" y2="1259.2" stroke="#3A55A0" stroke-width="3.2"/>
<line x1="169.7" x2="826.6" y1="1257.8" y2="1257.8" stroke="#000" stroke-width="2.3" stroke-dasharray="7.4 4 2.4 3.8" stroke-dashoffset="2"/>
<line x1="164.7" x2="828.0" y1="1203.3" y2="1203.3" stroke="#000" stroke-width="5.3"/>
<rect x="164.7" y="1049.1" width="663.3" height="408.0" fill="none" stroke="#333333" stroke-width="2.8"/>
</g>
<rect x="164.7" y="999.4" width="663.3" height="48.1" fill="#F0F8FC" stroke="#333333" stroke-width="2.8"/>
<text x="496.4" y="1029.5" font-size="18.3" text-anchor="middle" fill="#1a1a1a" font-weight="bold" >Gamma (P.1)</text>
<line x1="153.2" x2="163.2" y1="1083.3" y2="1083.3" stroke="#333333" stroke-width="3.8"/>
<text x="146.0" y="1092.6" font-size="25.5" text-anchor="end" fill="#3d3d3d" textLength="80.5" lengthAdjust="spacingAndGlyphs" stroke="#fff" stroke-width="0.5">0.0625</text>
<line x1="153.2" x2="163.2" y1="1143.3" y2="1143.3" stroke="#333333" stroke-width="3.8"/>
<text x="146.0" y="1152.6" font-size="25.5" text-anchor="end" fill="#3d3d3d" textLength="51.5" lengthAdjust="spacingAndGlyphs" stroke="#fff" stroke-width="0.5">0.25</text>
<line x1="153.2" x2="163.2" y1="1203.3" y2="1203.3" stroke="#333333" stroke-width="3.8"/>
<text x="146.0" y="1212.6" font-size="25.5" text-anchor="end" fill="#3d3d3d" stroke="#fff" stroke-width="0.5">1</text>
<line x1="153.2" x2="163.2" y1="1263.3" y2="1263.3" stroke="#333333" stroke-width="3.8"/>
<text x="146.0" y="1272.6" font-size="25.5" text-anchor="end" fill="#3d3d3d" stroke="#fff" stroke-width="0.5">4</text>
<line x1="153.2" x2="163.2" y1="1323.3" y2="1323.3" stroke="#333333" stroke-width="3.8"/>
<text x="146.0" y="1332.6" font-size="25.5" text-anchor="end" fill="#3d3d3d" textLength="27.5" lengthAdjust="spacingAndGlyphs" stroke="#fff" stroke-width="0.5">16</text>
<line x1="153.2" x2="163.2" y1="1383.3" y2="1383.3" stroke="#333333" stroke-width="3.8"/>
<text x="146.0" y="1392.6" font-size="25.5" text-anchor="end" fill="#3d3d3d" textLength="29.5" lengthAdjust="spacingAndGlyphs" stroke="#fff" stroke-width="0.5">64</text>
<rect x="985.6" y="1049.1" width="496.9" height="408.0" fill="#fff"/>
<g stroke="#EBEBEB"><line x1="1007.5" x2="1007.5" y1="1049.1" y2="1457.1" stroke-width="4.3"/><line x1="1047.8" x2="1047.8" y1="1049.1" y2="1457.1" stroke-width="2.1"/><line x1="1088.2" x2="1088.2" y1="1049.1" y2="1457.1" stroke-width="4.3"/><line x1="1128.5" x2="1128.5" y1="1049.1" y2="1457.1" stroke-width="2.1"/><line x1="1168.9" x2="1168.9" y1="1049.1" y2="1457.1" stroke-width="4.3"/><line x1="1209.2" x2="1209.2" y1="1049.1" y2="1457.1" stroke-width="2.1"/><line x1="1249.6" x2="1249.6" y1="1049.1" y2="1457.1" stroke-width="4.3"/><line x1="1289.9" x2="1289.9" y1="1049.1" y2="1457.1" stroke-width="2.1"/><line x1="1330.3" x2="1330.3" y1="1049.1" y2="1457.1" stroke-width="4.3"/><line x1="1370.6" x2="1370.6" y1="1049.1" y2="1457.1" stroke-width="2.1"/><line x1="1411.0" x2="1411.0" y1="1049.1" y2="1457.1" stroke-width="4.3"/><line x1="1451.3" x2="1451.3" y1="1049.1" y2="1457.1" stroke-width="2.1"/><line x1="985.6" x2="1482.5" y1="1439.4" y2="1439.4" stroke-width="4.3"/><line x1="985.6" x2="1482.5" y1="1406.2" y2="1406.2" stroke-width="2.1"/><line x1="985.6" x2="1482.5" y1="1373.1" y2="1373.1" stroke-width="4.3"/><line x1="985.6" x2="1482.5" y1="1339.9" y2="1339.9" stroke-width="2.1"/><line x1="985.6" x2="1482.5" y1="1306.8" y2="1306.8" stroke-width="4.3"/><line x1="985.6" x2="1482.5" y1="1273.6" y2="1273.6" stroke-width="2.1"/><line x1="985.6" x2="1482.5" y1="1240.5" y2="1240.5" stroke-width="4.3"/><line x1="985.6" x2="1482.5" y1="1207.3" y2="1207.3" stroke-width="2.1"/><line x1="985.6" x2="1482.5" y1="1174.2" y2="1174.2" stroke-width="4.3"/><line x1="985.6" x2="1482.5" y1="1141.0" y2="1141.0" stroke-width="2.1"/><line x1="985.6" x2="1482.5" y1="1107.9" y2="1107.9" stroke-width="4.3"/><line x1="985.6" x2="1482.5" y1="1074.8" y2="1074.8" stroke-width="2.1"/></g>
<text x="1265.8" y="1278.9" font-size="20" text-anchor="middle" fill="#8DA0CB" stroke="#8DA0CB" stroke-width="0.8">(1)</text>
<text x="1315.0" y="1271.9" font-size="20" text-anchor="middle" fill="#66C2A5" stroke="#66C2A5" stroke-width="0.8">(3)</text>
<text x="1397.3" y="1168.0" font-size="20" text-anchor="middle" fill="#FC8D62" stroke="#FC8D62" stroke-width="0.8">(2)</text>
<text x="1416.6" y="1178.2" font-size="20" text-anchor="middle" fill="#E78AC3" stroke="#E78AC3" stroke-width="0.8">(1)</text>
<g stroke="#8DA0CB" fill="none" stroke-width="4.6"><line x1="1261" x2="1296" y1="1315.3" y2="1315.3"/><line x1="1278.5" x2="1278.5" y1="1299.8" y2="1330.6"/></g>
<g stroke="#66C2A5" fill="none" stroke-width="4.6"><line x1="1315" x2="1345.2" y1="1308.3" y2="1308.3"/><line x1="1330" x2="1330" y1="1298.8" y2="1319.5"/></g>
<g stroke="#FC8D62" fill="none" stroke-width="4.6"><line x1="1381.7" x2="1438.9" y1="1203.5" y2="1203.5"/><line x1="1411.2" x2="1411.2" y1="1181.3" y2="1224.2"/></g>
<g stroke="#E78AC3" fill="none" stroke-width="4.6"><line x1="1408.7" x2="1450" y1="1214.7" y2="1214.7"/><line x1="1429.3" x2="1429.3" y1="1203.5" y2="1229"/></g>
<polygon points="1173.1,1411.0 1457.9,1177.0 1457.9,1201.4 1173.1,1435.4" fill="#F4A582" fill-opacity="0.68"/>
<line x1="1019.4" y1="1429.6" x2="1458.2" y2="1069.1" stroke="#34478B" stroke-width="2.2" stroke-dasharray="6.5 6"/>
<circle cx="1278.5" cy="1315.3" r="6.3" stroke-width="4" stroke="#8DA0CB" fill="none"/>
<circle cx="1330" cy="1308.3" r="6.3" stroke-width="4" stroke="#66C2A5" fill="none"/>
<circle cx="1411.2" cy="1203.5" r="6.3" stroke-width="4" stroke="#FC8D62" fill="none"/>
<circle cx="1429.3" cy="1214.7" r="6.3" stroke-width="4" stroke="#E78AC3" fill="none"/>
<line x1="1158.8" y1="1434.9" x2="1457.9" y2="1189.2" stroke="#D62728" stroke-width="2.5" stroke-dasharray="9 6"/>
<g stroke="#7B4FA3" fill="none" stroke-width="4.2"><line x1="1330.2" x2="1330.2" y1="1184.5" y2="1277.8"/><path d="M1322.6 1269.3L1330.2 1278.3L1337.8 1269.3" stroke-width="3.6" stroke-linejoin="miter"/></g>
<text x="1169.0" y="1179.2" font-size="14" text-anchor="middle" fill="#9467BD" textLength="136.5" lengthAdjust="spacingAndGlyphs" fill-opacity="0.8">Average drop in IC50</text>
<text x="1169.0" y="1212.7" font-size="14" text-anchor="middle" fill="#9467BD" fill-opacity="0.8">for P.1 (3.5)</text>
<rect x="985.6" y="1049.1" width="496.9" height="408.0" fill="none" stroke="#333333" stroke-width="2.8"/>
<rect x="985.6" y="999.4" width="496.9" height="48.1" fill="#F0F8FC" stroke="#333333" stroke-width="2.8"/>
<text x="1234.0" y="1029.5" font-size="18.3" text-anchor="middle" fill="#1a1a1a" font-weight="bold" >Gamma (P.1)</text>
<line x1="974.8" x2="984.1" y1="1107.9" y2="1107.9" stroke="#333333" stroke-width="3.8"/>
<text x="967.6" y="1117.2" font-size="25.5" text-anchor="end" fill="#3d3d3d" stroke="#fff" stroke-width="0.5">2</text>
<line x1="974.8" x2="984.1" y1="1174.2" y2="1174.2" stroke="#333333" stroke-width="3.8"/>
<text x="967.6" y="1183.5" font-size="25.5" text-anchor="end" fill="#3d3d3d" stroke="#fff" stroke-width="0.5">1</text>
<line x1="974.8" x2="984.1" y1="1240.5" y2="1240.5" stroke="#333333" stroke-width="3.8"/>
<text x="967.6" y="1249.8" font-size="25.5" text-anchor="end" fill="#3d3d3d" textLength="22.5" lengthAdjust="spacingAndGlyphs" stroke="#fff" stroke-width="0.5">.5</text>
<line x1="974.8" x2="984.1" y1="1306.8" y2="1306.8" stroke="#333333" stroke-width="3.8"/>
<text x="967.6" y="1316.1" font-size="25.5" text-anchor="end" fill="#3d3d3d" textLength="37.5" lengthAdjust="spacingAndGlyphs" stroke="#fff" stroke-width="0.5">.25</text>
<line x1="974.8" x2="984.1" y1="1373.1" y2="1373.1" stroke="#333333" stroke-width="3.8"/>
<text x="967.6" y="1382.4" font-size="25.5" text-anchor="end" fill="#3d3d3d" textLength="51.5" lengthAdjust="spacingAndGlyphs" stroke="#fff" stroke-width="0.5">.125</text>
<line x1="974.8" x2="984.1" y1="1439.4" y2="1439.4" stroke="#333333" stroke-width="3.8"/>
<text x="967.6" y="1448.7" font-size="25.5" text-anchor="end" fill="#3d3d3d" textLength="51.5" lengthAdjust="spacingAndGlyphs" stroke="#fff" stroke-width="0.5">.062</text>
<g>
<rect x="164.7" y="1529.0" width="109.9" height="408.0" fill="#C5E6F8"/>
<rect x="274.6" y="1529.0" width="111.1" height="408.0" fill="#F1F2F2"/>
<rect x="385.8" y="1529.0" width="111.1" height="408.0" fill="#F8F8F8"/>
<rect x="496.8" y="1529.0" width="111.1" height="408.0" fill="#F1F2F2"/>
<rect x="607.9" y="1529.0" width="111.1" height="408.0" fill="#F8F8F8"/>
<rect x="719.0" y="1529.0" width="109.0" height="408.0" fill="#F1F2F2"/>
<g stroke="#F5F5F5" stroke-opacity="0.65"><line x1="164.7" x2="274.6" y1="1533.2" y2="1533.2" stroke-width="2.4" stroke-opacity="0.12"/><line x1="274.6" x2="828.0" y1="1533.2" y2="1533.2" stroke-width="2.4"/><line x1="164.7" x2="274.6" y1="1563.2" y2="1563.2" stroke-width="4.5" stroke-opacity="0.12"/><line x1="274.6" x2="828.0" y1="1563.2" y2="1563.2" stroke-width="4.5"/><line x1="164.7" x2="274.6" y1="1593.2" y2="1593.2" stroke-width="2.4" stroke-opacity="0.12"/><line x1="274.6" x2="828.0" y1="1593.2" y2="1593.2" stroke-width="2.4"/><line x1="164.7" x2="274.6" y1="1623.2" y2="1623.2" stroke-width="4.5" stroke-opacity="0.12"/><line x1="274.6" x2="828.0" y1="1623.2" y2="1623.2" stroke-width="4.5"/><line x1="164.7" x2="274.6" y1="1653.2" y2="1653.2" stroke-width="2.4" stroke-opacity="0.12"/><line x1="274.6" x2="828.0" y1="1653.2" y2="1653.2" stroke-width="2.4"/><line x1="164.7" x2="274.6" y1="1683.2" y2="1683.2" stroke-width="4.5" stroke-opacity="0.12"/><line x1="274.6" x2="828.0" y1="1683.2" y2="1683.2" stroke-width="4.5"/><line x1="164.7" x2="274.6" y1="1713.2" y2="1713.2" stroke-width="2.4" stroke-opacity="0.12"/><line x1="274.6" x2="828.0" y1="1713.2" y2="1713.2" stroke-width="2.4"/><line x1="164.7" x2="274.6" y1="1743.2" y2="1743.2" stroke-width="4.5" stroke-opacity="0.12"/><line x1="274.6" x2="828.0" y1="1743.2" y2="1743.2" stroke-width="4.5"/><line x1="164.7" x2="274.6" y1="1773.2" y2="1773.2" stroke-width="2.4" stroke-opacity="0.12"/><line x1="274.6" x2="828.0" y1="1773.2" y2="1773.2" stroke-width="2.4"/><line x1="164.7" x2="274.6" y1="1803.2" y2="1803.2" stroke-width="4.5" stroke-opacity="0.12"/><line x1="274.6" x2="828.0" y1="1803.2" y2="1803.2" stroke-width="4.5"/><line x1="164.7" x2="274.6" y1="1833.2" y2="1833.2" stroke-width="2.4" stroke-opacity="0.12"/><line x1="274.6" x2="828.0" y1="1833.2" y2="1833.2" stroke-width="2.4"/><line x1="164.7" x2="274.6" y1="1863.2" y2="1863.2" stroke-width="4.5" stroke-opacity="0.12"/><line x1="274.6" x2="828.0" y1="1863.2" y2="1863.2" stroke-width="4.5"/><line x1="164.7" x2="274.6" y1="1893.2" y2="1893.2" stroke-width="2.4" stroke-opacity="0.12"/><line x1="274.6" x2="828.0" y1="1893.2" y2="1893.2" stroke-width="2.4"/><line x1="164.7" x2="274.6" y1="1923.2" y2="1923.2" stroke-width="2.4" stroke-opacity="0.12"/><line x1="274.6" x2="828.0" y1="1923.2" y2="1923.2" stroke-width="2.4"/><line x1="219.1" x2="219.1" y1="1529.0" y2="1937.0" stroke-width="6" stroke-opacity="0.22"/><line x1="330.2" x2="330.2" y1="1529.0" y2="1937.0" stroke-width="6"/><line x1="441.3" x2="441.3" y1="1529.0" y2="1937.0" stroke-width="6"/><line x1="552.4" x2="552.4" y1="1529.0" y2="1937.0" stroke-width="6"/><line x1="663.5" x2="663.5" y1="1529.0" y2="1937.0" stroke-width="6"/><line x1="774.6" x2="774.6" y1="1529.0" y2="1937.0" stroke-width="6"/></g>
<g stroke="#fff" stroke-opacity="0.5" stroke-width="1"><line x1="274.6" x2="274.6" y1="1529.0" y2="1937.0"/><line x1="385.8" x2="385.8" y1="1529.0" y2="1937.0"/><line x1="496.8" x2="496.8" y1="1529.0" y2="1937.0"/><line x1="607.9" x2="607.9" y1="1529.0" y2="1937.0"/><line x1="719.0" x2="719.0" y1="1529.0" y2="1937.0"/></g>
<line x1="213.3" x2="213.3" y1="1674.9" y2="1772.8" stroke="#5A6A99" stroke-width="5.8" stroke-linecap="round"/>
<rect x="207.0" y="1705.8" width="12.6" height="32.9" rx="2" fill="#5A6A99"/>
<rect x="211.9" y="1710.8" width="2.8" height="22.9" fill="#fff" fill-opacity="0.18"/>
<rect x="211.8" y="1715.9" width="3" height="4.5" fill="#fff" fill-opacity="0.8"/>
<line x1="225.2" x2="225.2" y1="1639.9" y2="1796.1" stroke="#449B76" stroke-width="5.8" stroke-linecap="round"/>
<rect x="218.9" y="1679.4" width="12.6" height="47.6" rx="2" fill="#449B76"/>
<rect x="223.6" y="1685.4" width="3.2" height="15.8" fill="#fff" fill-opacity="0.75"/>
<rect x="223.6" y="1707.2" width="3.2" height="13.8" fill="#fff" fill-opacity="0.45"/>
<line x1="318.1" x2="318.1" y1="1663.9" y2="1764.3" stroke="#5A6A99" stroke-width="5.8" stroke-linecap="round"/>
<rect x="311.8" y="1709.0" width="12.6" height="37.1" rx="2" fill="#5A6A99"/>
<rect x="316.7" y="1714.0" width="2.8" height="27.1" fill="#fff" fill-opacity="0.18"/>
<rect x="316.6" y="1721.3" width="3" height="4.5" fill="#fff" fill-opacity="0.8"/>
<line x1="330.4" x2="330.4" y1="1637.8" y2="1758.4" stroke="#449B76" stroke-width="5.8" stroke-linecap="round"/>
<rect x="324.1" y="1699.9" width="12.6" height="44.0" rx="2" fill="#449B76"/>
<rect x="328.8" y="1705.9" width="3.2" height="13.9" fill="#fff" fill-opacity="0.75"/>
<rect x="328.8" y="1725.8" width="3.2" height="12.1" fill="#fff" fill-opacity="0.45"/>
<line x1="342" x2="342" y1="1684.4" y2="1831.0" stroke="#999999" stroke-width="5.8" stroke-linecap="round"/>
<rect x="335.7" y="1737.6" width="12.6" height="45.5" rx="2" fill="#999999"/>
<rect x="340.6" y="1742.6" width="2.8" height="35.5" fill="#fff" fill-opacity="0.18"/>
<rect x="340.5" y="1754.3" width="3" height="4.5" fill="#fff" fill-opacity="0.8"/>
<line x1="435.2" x2="435.2" y1="1697.1" y2="1791.9" stroke="#5A6A99" stroke-width="5.8" stroke-linecap="round"/>
<rect x="428.9" y="1723.8" width="12.6" height="33.3" rx="2" fill="#5A6A99"/>
<rect x="433.8" y="1728.8" width="2.8" height="23.3" fill="#fff" fill-opacity="0.18"/>
<rect x="433.7" y="1734.1" width="3" height="4.5" fill="#fff" fill-opacity="0.8"/>
<line x1="447.3" x2="447.3" y1="1715.7" y2="1785.5" stroke="#449B76" stroke-width="5.8" stroke-linecap="round"/>
<rect x="441.0" y="1734.8" width="12.6" height="32.4" rx="2" fill="#449B76"/>
<rect x="445.9" y="1739.8" width="2.8" height="22.4" fill="#fff" fill-opacity="0.18"/>
<rect x="445.8" y="1744.6" width="3" height="4.5" fill="#fff" fill-opacity="0.8"/>
<g fill="#5A6A99" fill-opacity="0.4"><circle cx="212.4" cy="1723.6" r="2"/><circle cx="212.9" cy="1746.4" r="2"/><circle cx="210.2" cy="1719.1" r="2"/><circle cx="213.1" cy="1707.1" r="2"/><circle cx="210.6" cy="1718.9" r="2"/><circle cx="212.2" cy="1703.0" r="2"/><circle cx="214.7" cy="1764.7" r="2"/><circle cx="210.2" cy="1764.4" r="2"/><circle cx="213.6" cy="1696.2" r="2"/><circle cx="211.5" cy="1679.2" r="2"/><circle cx="210.0" cy="1729.9" r="2"/><circle cx="210.2" cy="1712.9" r="2"/><circle cx="215.9" cy="1697.5" r="2"/><circle cx="211.8" cy="1712.3" r="2"/></g>
<g fill="#449B76" fill-opacity="0.4"><circle cx="227.6" cy="1783.8" r="2"/><circle cx="224.7" cy="1678.8" r="2"/><circle cx="226.9" cy="1669.6" r="2"/><circle cx="227.0" cy="1710.7" r="2"/><circle cx="222.8" cy="1758.7" r="2"/><circle cx="226.8" cy="1659.8" r="2"/><circle cx="223.1" cy="1777.4" r="2"/><circle cx="223.2" cy="1775.3" r="2"/><circle cx="226.1" cy="1692.6" r="2"/><circle cx="225.3" cy="1661.8" r="2"/><circle cx="222.5" cy="1707.6" r="2"/><circle cx="224.7" cy="1647.5" r="2"/><circle cx="225.3" cy="1718.4" r="2"/><circle cx="224.7" cy="1648.3" r="2"/><circle cx="226.6" cy="1794.4" r="2"/><circle cx="226.5" cy="1689.8" r="2"/><circle cx="225.7" cy="1701.4" r="2"/><circle cx="221.9" cy="1658.4" r="2"/><circle cx="224.9" cy="1751.3" r="2"/><circle cx="228.5" cy="1645.8" r="2"/><circle cx="223.5" cy="1738.4" r="2"/><circle cx="227.2" cy="1718.7" r="2"/><circle cx="226.6" cy="1714.7" r="2"/></g>
<g fill="#5A6A99" fill-opacity="0.4"><circle cx="320.1" cy="1662.8" r="2"/><circle cx="317.1" cy="1721.5" r="2"/><circle cx="320.6" cy="1704.8" r="2"/><circle cx="316.8" cy="1760.2" r="2"/><circle cx="317.0" cy="1748.3" r="2"/><circle cx="315.2" cy="1717.7" r="2"/><circle cx="318.0" cy="1699.9" r="2"/><circle cx="320.8" cy="1667.5" r="2"/><circle cx="320.8" cy="1741.1" r="2"/><circle cx="316.0" cy="1714.7" r="2"/><circle cx="315.3" cy="1701.4" r="2"/><circle cx="317.9" cy="1714.8" r="2"/><circle cx="319.9" cy="1689.9" r="2"/><circle cx="321.3" cy="1732.8" r="2"/><circle cx="318.8" cy="1704.2" r="2"/></g>
<g fill="#449B76" fill-opacity="0.4"><circle cx="329.7" cy="1654.3" r="2"/><circle cx="329.2" cy="1724.6" r="2"/><circle cx="330.5" cy="1733.8" r="2"/><circle cx="327.8" cy="1657.5" r="2"/><circle cx="331.1" cy="1643.7" r="2"/><circle cx="329.3" cy="1667.6" r="2"/><circle cx="327.3" cy="1746.3" r="2"/><circle cx="331.6" cy="1694.9" r="2"/><circle cx="333.5" cy="1663.8" r="2"/><circle cx="331.3" cy="1746.3" r="2"/><circle cx="329.1" cy="1658.8" r="2"/><circle cx="328.7" cy="1666.8" r="2"/><circle cx="332.8" cy="1645.3" r="2"/><circle cx="327.3" cy="1730.3" r="2"/><circle cx="330.6" cy="1754.1" r="2"/><circle cx="329.2" cy="1746.3" r="2"/><circle cx="328.0" cy="1736.5" r="2"/><circle cx="330.6" cy="1656.8" r="2"/></g>
<g fill="#999999" fill-opacity="0.4"><circle cx="341.3" cy="1787.8" r="2"/><circle cx="340.8" cy="1806.1" r="2"/><circle cx="341.6" cy="1823.7" r="2"/><circle cx="343.5" cy="1809.6" r="2"/><circle cx="339.0" cy="1709.8" r="2"/><circle cx="343.9" cy="1743.1" r="2"/><circle cx="343.2" cy="1750.9" r="2"/><circle cx="344.7" cy="1719.0" r="2"/><circle cx="340.1" cy="1735.9" r="2"/><circle cx="340.1" cy="1693.3" r="2"/><circle cx="339.8" cy="1702.6" r="2"/><circle cx="342.6" cy="1682.7" r="2"/><circle cx="341.0" cy="1810.4" r="2"/><circle cx="344.9" cy="1832.3" r="2"/><circle cx="340.8" cy="1780.2" r="2"/><circle cx="340.4" cy="1825.1" r="2"/><circle cx="344.3" cy="1725.9" r="2"/><circle cx="343.9" cy="1753.3" r="2"/><circle cx="343.3" cy="1746.4" r="2"/><circle cx="341.2" cy="1698.4" r="2"/><circle cx="344.4" cy="1823.8" r="2"/></g>
<g fill="#5A6A99" fill-opacity="0.4"><circle cx="435.4" cy="1751.8" r="2"/><circle cx="437.8" cy="1791.6" r="2"/><circle cx="434.5" cy="1731.1" r="2"/><circle cx="434.7" cy="1736.5" r="2"/><circle cx="435.1" cy="1784.0" r="2"/><circle cx="437.3" cy="1772.8" r="2"/><circle cx="434.5" cy="1734.9" r="2"/><circle cx="437.8" cy="1739.1" r="2"/><circle cx="437.5" cy="1787.8" r="2"/><circle cx="435.4" cy="1753.1" r="2"/><circle cx="434.6" cy="1793.1" r="2"/><circle cx="435.3" cy="1755.1" r="2"/><circle cx="435.0" cy="1767.0" r="2"/><circle cx="438.0" cy="1774.6" r="2"/></g>
<g fill="#449B76" fill-opacity="0.4"><circle cx="445.7" cy="1770.3" r="2"/><circle cx="446.6" cy="1737.1" r="2"/><circle cx="448.9" cy="1781.1" r="2"/><circle cx="445.8" cy="1779.0" r="2"/><circle cx="444.5" cy="1742.2" r="2"/><circle cx="444.9" cy="1756.8" r="2"/><circle cx="446.5" cy="1739.4" r="2"/><circle cx="447.6" cy="1726.0" r="2"/><circle cx="448.9" cy="1764.4" r="2"/><circle cx="447.2" cy="1750.6" r="2"/></g>
<circle cx="213.3" cy="1659.3" r="3.4" fill="#5A6A99" fill-opacity="0.5"/>
<circle cx="213.3" cy="1805.3" r="3.4" fill="#5A6A99" fill-opacity="0.5"/>
<circle cx="225.2" cy="1819.7" r="3.4" fill="#449B76" fill-opacity="0.5"/>
<circle cx="342" cy="1853.4" r="3.4" fill="#999999" fill-opacity="0.5"/>
<path d="M338.8 1886.8L345.2 1893.2M338.8 1893.2L345.2 1886.8" stroke="#999999" stroke-opacity="0.6" stroke-width="2.6"/>
<path d="M432.0 1790.8L438.4 1797.2M432.0 1797.2L438.4 1790.8" stroke="#5A6A99" stroke-opacity="0.6" stroke-width="2.6"/>
<line x1="191.1" x2="247.1" y1="1730.4" y2="1730.4" stroke="#3A55A0" stroke-width="3.2"/>
<line x1="302.2" x2="358.2" y1="1746.7" y2="1746.7" stroke="#3A55A0" stroke-width="3.2"/>
<line x1="413.3" x2="469.3" y1="1746.7" y2="1746.7" stroke="#3A55A0" stroke-width="3.2"/>
<line x1="169.7" x2="826.6" y1="1741.8" y2="1741.8" stroke="#000" stroke-width="2.3" stroke-dasharray="7.4 4 2.4 3.8" stroke-dashoffset="2"/>
<line x1="164.7" x2="828.0" y1="1683.2" y2="1683.2" stroke="#000" stroke-width="5.3"/>
<rect x="164.7" y="1529.0" width="663.3" height="408.0" fill="none" stroke="#333333" stroke-width="2.8"/>
</g>
<rect x="164.7" y="1479.3" width="663.3" height="48.1" fill="#F0F8FC" stroke="#333333" stroke-width="2.8"/>
<text x="496.4" y="1509.4" font-size="18.3" text-anchor="middle" fill="#1a1a1a" font-weight="bold" >Delta (B.1.617.2)</text>
<line x1="153.2" x2="163.2" y1="1563.2" y2="1563.2" stroke="#333333" stroke-width="3.8"/>
<text x="146.0" y="1572.5" font-size="25.5" text-anchor="end" fill="#3d3d3d" textLength="80.5" lengthAdjust="spacingAndGlyphs" stroke="#fff" stroke-width="0.5">0.0625</text>
<line x1="153.2" x2="163.2" y1="1623.2" y2="1623.2" stroke="#333333" stroke-width="3.8"/>
<text x="146.0" y="1632.5" font-size="25.5" text-anchor="end" fill="#3d3d3d" textLength="51.5" lengthAdjust="spacingAndGlyphs" stroke="#fff" stroke-width="0.5">0.25</text>
<line x1="153.2" x2="163.2" y1="1683.2" y2="1683.2" stroke="#333333" stroke-width="3.8"/>
<text x="146.0" y="1692.5" font-size="25.5" text-anchor="end" fill="#3d3d3d" stroke="#fff" stroke-width="0.5">1</text>
<line x1="153.2" x2="163.2" y1="1743.2" y2="1743.2" stroke="#333333" stroke-width="3.8"/>
<text x="146.0" y="1752.5" font-size="25.5" text-anchor="end" fill="#3d3d3d" stroke="#fff" stroke-width="0.5">4</text>
<line x1="153.2" x2="163.2" y1="1803.2" y2="1803.2" stroke="#333333" stroke-width="3.8"/>
<text x="146.0" y="1812.5" font-size="25.5" text-anchor="end" fill="#3d3d3d" textLength="27.5" lengthAdjust="spacingAndGlyphs" stroke="#fff" stroke-width="0.5">16</text>
<line x1="153.2" x2="163.2" y1="1863.2" y2="1863.2" stroke="#333333" stroke-width="3.8"/>
<text x="146.0" y="1872.5" font-size="25.5" text-anchor="end" fill="#3d3d3d" textLength="29.5" lengthAdjust="spacingAndGlyphs" stroke="#fff" stroke-width="0.5">64</text>
<rect x="985.6" y="1529.0" width="496.9" height="408.0" fill="#fff"/>
<g stroke="#EBEBEB"><line x1="1007.5" x2="1007.5" y1="1529.0" y2="1937.0" stroke-width="4.3"/><line x1="1047.8" x2="1047.8" y1="1529.0" y2="1937.0" stroke-width="2.1"/><line x1="1088.2" x2="1088.2" y1="1529.0" y2="1937.0" stroke-width="4.3"/><line x1="1128.5" x2="1128.5" y1="1529.0" y2="1937.0" stroke-width="2.1"/><line x1="1168.9" x2="1168.9" y1="1529.0" y2="1937.0" stroke-width="4.3"/><line x1="1209.2" x2="1209.2" y1="1529.0" y2="1937.0" stroke-width="2.1"/><line x1="1249.6" x2="1249.6" y1="1529.0" y2="1937.0" stroke-width="4.3"/><line x1="1289.9" x2="1289.9" y1="1529.0" y2="1937.0" stroke-width="2.1"/><line x1="1330.3" x2="1330.3" y1="1529.0" y2="1937.0" stroke-width="4.3"/><line x1="1370.6" x2="1370.6" y1="1529.0" y2="1937.0" stroke-width="2.1"/><line x1="1411.0" x2="1411.0" y1="1529.0" y2="1937.0" stroke-width="4.3"/><line x1="1451.3" x2="1451.3" y1="1529.0" y2="1937.0" stroke-width="2.1"/><line x1="985.6" x2="1482.5" y1="1919.3" y2="1919.3" stroke-width="4.3"/><line x1="985.6" x2="1482.5" y1="1886.1" y2="1886.1" stroke-width="2.1"/><line x1="985.6" x2="1482.5" y1="1853.0" y2="1853.0" stroke-width="4.3"/><line x1="985.6" x2="1482.5" y1="1819.8" y2="1819.8" stroke-width="2.1"/><line x1="985.6" x2="1482.5" y1="1786.7" y2="1786.7" stroke-width="4.3"/><line x1="985.6" x2="1482.5" y1="1753.5" y2="1753.5" stroke-width="2.1"/><line x1="985.6" x2="1482.5" y1="1720.4" y2="1720.4" stroke-width="4.3"/><line x1="985.6" x2="1482.5" y1="1687.2" y2="1687.2" stroke-width="2.1"/><line x1="985.6" x2="1482.5" y1="1654.1" y2="1654.1" stroke-width="4.3"/><line x1="985.6" x2="1482.5" y1="1620.9" y2="1620.9" stroke-width="2.1"/><line x1="985.6" x2="1482.5" y1="1587.8" y2="1587.8" stroke-width="4.3"/><line x1="985.6" x2="1482.5" y1="1554.6" y2="1554.6" stroke-width="2.1"/></g>
<text x="1303.9" y="1769.4" font-size="20" text-anchor="middle" fill="#8DA0CB" stroke="#8DA0CB" stroke-width="0.8">(2)</text>
<text x="1316.0" y="1722.7" font-size="20" text-anchor="middle" fill="#66C2A5" stroke="#66C2A5" stroke-width="0.8">(2)</text>
<text x="1398.5" y="1634.4" font-size="20" text-anchor="middle" fill="#FC8D62" stroke="#FC8D62" stroke-width="0.8">(2)</text>
<g stroke="#8DA0CB" fill="none" stroke-width="4.6"><line x1="1300.7" x2="1335.7" y1="1805.8" y2="1805.8"/><line x1="1318.2" x2="1318.2" y1="1790" y2="1820.1"/></g>
<g stroke="#66C2A5" fill="none" stroke-width="4.6"><line x1="1308.7" x2="1352.2" y1="1758.2" y2="1758.2"/><line x1="1330" x2="1330" y1="1750.2" y2="1772.5"/></g>
<g stroke="#FC8D62" fill="none" stroke-width="4.6"><line x1="1391.2" x2="1431.6" y1="1670.2" y2="1670.2"/><line x1="1411.2" x2="1411.2" y1="1653.4" y2="1686.7"/></g>
<polygon points="1181.0,1894.5 1457.9,1667.0 1457.9,1691.8 1181.0,1919.3" fill="#F4A582" fill-opacity="0.68"/>
<line x1="1019.4" y1="1909.5" x2="1458.2" y2="1549.0" stroke="#34478B" stroke-width="2.2" stroke-dasharray="6.5 6"/>
<circle cx="1318.2" cy="1805.8" r="6.3" stroke-width="4" stroke="#8DA0CB" fill="none"/>
<circle cx="1330" cy="1758.2" r="6.3" stroke-width="4" stroke="#66C2A5" fill="none"/>
<circle cx="1411.2" cy="1670.2" r="6.3" stroke-width="4" stroke="#FC8D62" fill="none"/>
<line x1="1168.9" y1="1916.9" x2="1457.9" y2="1679.4" stroke="#D62728" stroke-width="2.5" stroke-dasharray="9 6"/>
<g stroke="#7B4FA3" fill="none" stroke-width="4.2"><line x1="1330.2" x2="1330.2" y1="1664.5" y2="1767.3"/><path d="M1322.6 1758.8L1330.2 1767.8L1337.8 1758.8" stroke-width="3.6" stroke-linejoin="miter"/></g>
<text x="1169.0" y="1659.1" font-size="14" text-anchor="middle" fill="#9467BD" textLength="136.5" lengthAdjust="spacingAndGlyphs" fill-opacity="0.8">Average drop in IC50</text>
<text x="1169.0" y="1692.6" font-size="14" text-anchor="middle" fill="#9467BD" fill-opacity="0.8">for B.1.617.2 (3.9)</text>
<rect x="985.6" y="1529.0" width="496.9" height="408.0" fill="none" stroke="#333333" stroke-width="2.8"/>
<rect x="985.6" y="1479.3" width="496.9" height="48.1" fill="#F0F8FC" stroke="#333333" stroke-width="2.8"/>
<text x="1234.0" y="1509.4" font-size="18.3" text-anchor="middle" fill="#1a1a1a" font-weight="bold" >Delta (B.1.617.2)</text>
<line x1="974.8" x2="984.1" y1="1587.8" y2="1587.8" stroke="#333333" stroke-width="3.8"/>
<text x="967.6" y="1597.1" font-size="25.5" text-anchor="end" fill="#3d3d3d" stroke="#fff" stroke-width="0.5">2</text>
<line x1="974.8" x2="984.1" y1="1654.1" y2="1654.1" stroke="#333333" stroke-width="3.8"/>
<text x="967.6" y="1663.4" font-size="25.5" text-anchor="end" fill="#3d3d3d" stroke="#fff" stroke-width="0.5">1</text>
<line x1="974.8" x2="984.1" y1="1720.4" y2="1720.4" stroke="#333333" stroke-width="3.8"/>
<text x="967.6" y="1729.7" font-size="25.5" text-anchor="end" fill="#3d3d3d" textLength="22.5" lengthAdjust="spacingAndGlyphs" stroke="#fff" stroke-width="0.5">.5</text>
<line x1="974.8" x2="984.1" y1="1786.7" y2="1786.7" stroke="#333333" stroke-width="3.8"/>
<text x="967.6" y="1796.0" font-size="25.5" text-anchor="end" fill="#3d3d3d" textLength="37.5" lengthAdjust="spacingAndGlyphs" stroke="#fff" stroke-width="0.5">.25</text>
<line x1="974.8" x2="984.1" y1="1853.0" y2="1853.0" stroke="#333333" stroke-width="3.8"/>
<text x="967.6" y="1862.3" font-size="25.5" text-anchor="end" fill="#3d3d3d" textLength="51.5" lengthAdjust="spacingAndGlyphs" stroke="#fff" stroke-width="0.5">.125</text>
<line x1="974.8" x2="984.1" y1="1919.3" y2="1919.3" stroke="#333333" stroke-width="3.8"/>
<text x="967.6" y="1928.6" font-size="25.5" text-anchor="end" fill="#3d3d3d" textLength="51.5" lengthAdjust="spacingAndGlyphs" stroke="#fff" stroke-width="0.5">.062</text>
<g>
<rect x="164.7" y="2008.9" width="109.9" height="408.0" fill="#C5E6F8"/>
<rect x="274.6" y="2008.9" width="111.1" height="408.0" fill="#F1F2F2"/>
<rect x="385.8" y="2008.9" width="111.1" height="408.0" fill="#F8F8F8"/>
<rect x="496.8" y="2008.9" width="111.1" height="408.0" fill="#F1F2F2"/>
<rect x="607.9" y="2008.9" width="111.1" height="408.0" fill="#F8F8F8"/>
<rect x="719.0" y="2008.9" width="109.0" height="408.0" fill="#F1F2F2"/>
<g stroke="#F5F5F5" stroke-opacity="0.65"><line x1="164.7" x2="274.6" y1="2013.1" y2="2013.1" stroke-width="2.4" stroke-opacity="0.12"/><line x1="274.6" x2="828.0" y1="2013.1" y2="2013.1" stroke-width="2.4"/><line x1="164.7" x2="274.6" y1="2043.1" y2="2043.1" stroke-width="4.5" stroke-opacity="0.12"/><line x1="274.6" x2="828.0" y1="2043.1" y2="2043.1" stroke-width="4.5"/><line x1="164.7" x2="274.6" y1="2073.1" y2="2073.1" stroke-width="2.4" stroke-opacity="0.12"/><line x1="274.6" x2="828.0" y1="2073.1" y2="2073.1" stroke-width="2.4"/><line x1="164.7" x2="274.6" y1="2103.1" y2="2103.1" stroke-width="4.5" stroke-opacity="0.12"/><line x1="274.6" x2="828.0" y1="2103.1" y2="2103.1" stroke-width="4.5"/><line x1="164.7" x2="274.6" y1="2133.1" y2="2133.1" stroke-width="2.4" stroke-opacity="0.12"/><line x1="274.6" x2="828.0" y1="2133.1" y2="2133.1" stroke-width="2.4"/><line x1="164.7" x2="274.6" y1="2163.1" y2="2163.1" stroke-width="4.5" stroke-opacity="0.12"/><line x1="274.6" x2="828.0" y1="2163.1" y2="2163.1" stroke-width="4.5"/><line x1="164.7" x2="274.6" y1="2193.1" y2="2193.1" stroke-width="2.4" stroke-opacity="0.12"/><line x1="274.6" x2="828.0" y1="2193.1" y2="2193.1" stroke-width="2.4"/><line x1="164.7" x2="274.6" y1="2223.1" y2="2223.1" stroke-width="4.5" stroke-opacity="0.12"/><line x1="274.6" x2="828.0" y1="2223.1" y2="2223.1" stroke-width="4.5"/><line x1="164.7" x2="274.6" y1="2253.1" y2="2253.1" stroke-width="2.4" stroke-opacity="0.12"/><line x1="274.6" x2="828.0" y1="2253.1" y2="2253.1" stroke-width="2.4"/><line x1="164.7" x2="274.6" y1="2283.1" y2="2283.1" stroke-width="4.5" stroke-opacity="0.12"/><line x1="274.6" x2="828.0" y1="2283.1" y2="2283.1" stroke-width="4.5"/><line x1="164.7" x2="274.6" y1="2313.1" y2="2313.1" stroke-width="2.4" stroke-opacity="0.12"/><line x1="274.6" x2="828.0" y1="2313.1" y2="2313.1" stroke-width="2.4"/><line x1="164.7" x2="274.6" y1="2343.1" y2="2343.1" stroke-width="4.5" stroke-opacity="0.12"/><line x1="274.6" x2="828.0" y1="2343.1" y2="2343.1" stroke-width="4.5"/><line x1="164.7" x2="274.6" y1="2373.1" y2="2373.1" stroke-width="2.4" stroke-opacity="0.12"/><line x1="274.6" x2="828.0" y1="2373.1" y2="2373.1" stroke-width="2.4"/><line x1="164.7" x2="274.6" y1="2403.1" y2="2403.1" stroke-width="2.4" stroke-opacity="0.12"/><line x1="274.6" x2="828.0" y1="2403.1" y2="2403.1" stroke-width="2.4"/><line x1="219.1" x2="219.1" y1="2008.9" y2="2416.9" stroke-width="6" stroke-opacity="0.22"/><line x1="330.2" x2="330.2" y1="2008.9" y2="2416.9" stroke-width="6"/><line x1="441.3" x2="441.3" y1="2008.9" y2="2416.9" stroke-width="6"/><line x1="552.4" x2="552.4" y1="2008.9" y2="2416.9" stroke-width="6"/><line x1="663.5" x2="663.5" y1="2008.9" y2="2416.9" stroke-width="6"/><line x1="774.6" x2="774.6" y1="2008.9" y2="2416.9" stroke-width="6"/></g>
<g stroke="#fff" stroke-opacity="0.5" stroke-width="1"><line x1="274.6" x2="274.6" y1="2008.9" y2="2416.9"/><line x1="385.8" x2="385.8" y1="2008.9" y2="2416.9"/><line x1="496.8" x2="496.8" y1="2008.9" y2="2416.9"/><line x1="607.9" x2="607.9" y1="2008.9" y2="2416.9"/><line x1="719.0" x2="719.0" y1="2008.9" y2="2416.9"/></g>
<line x1="219.5" x2="219.5" y1="2199.7" y2="2289.8" stroke="#E485B7" stroke-width="5.8" stroke-linecap="round"/>
<rect x="211.0" y="2219.9" width="17" height="42.9" rx="2" fill="#E485B7"/>
<rect x="216.1" y="2225.9" width="6.7" height="13.3" fill="#fff" fill-opacity="0.75"/>
<rect x="216.1" y="2245.2" width="6.7" height="11.6" fill="#fff" fill-opacity="0.2"/>
<line x1="330.4" x2="330.4" y1="2230.2" y2="2259.9" stroke="#E485B7" stroke-width="5.8" stroke-linecap="round"/>
<rect x="321.9" y="2236.7" width="17" height="16.2" rx="2" fill="#E485B7"/>
<line x1="552.3" x2="552.3" y1="2227.8" y2="2263.7" stroke="#E485B7" stroke-width="5.8" stroke-linecap="round"/>
<rect x="543.8" y="2238.0" width="17" height="16.0" rx="2" fill="#E485B7"/>
<g fill="#E485B7" fill-opacity="0.4"><circle cx="222.6" cy="2237.3" r="2"/><circle cx="220.8" cy="2255.4" r="2"/><circle cx="217.4" cy="2245.6" r="2"/><circle cx="221.8" cy="2275.7" r="2"/><circle cx="220.5" cy="2217.5" r="2"/><circle cx="220.9" cy="2263.6" r="2"/><circle cx="221.8" cy="2273.8" r="2"/><circle cx="219.5" cy="2232.5" r="2"/><circle cx="217.1" cy="2265.5" r="2"/><circle cx="217.2" cy="2200.3" r="2"/><circle cx="218.3" cy="2276.3" r="2"/><circle cx="217.0" cy="2226.2" r="2"/><circle cx="222.6" cy="2209.2" r="2"/></g>
<g fill="#E485B7" fill-opacity="0.4"><circle cx="333.6" cy="2230.0" r="2"/><circle cx="328.7" cy="2246.8" r="2"/><circle cx="332.9" cy="2228.8" r="2"/><circle cx="333.4" cy="2241.4" r="2"/><circle cx="332.4" cy="2230.3" r="2"/></g>
<g fill="#E485B7" fill-opacity="0.4"><circle cx="554.3" cy="2252.1" r="2"/><circle cx="553.7" cy="2245.4" r="2"/><circle cx="550.6" cy="2243.4" r="2"/><circle cx="552.1" cy="2231.1" r="2"/><circle cx="549.1" cy="2255.1" r="2"/></g>
<circle cx="330.4" cy="2294" r="3.4" fill="#E485B7" fill-opacity="0.5"/>
<circle cx="552.3" cy="2275.3" r="3.4" fill="#E485B7" fill-opacity="0.5"/>
<path d="M216.3 2284.8L222.7 2291.2M216.3 2291.2L222.7 2284.8" stroke="#E485B7" stroke-opacity="0.6" stroke-width="2.6"/>
<line x1="191.1" x2="247.1" y1="2247.4" y2="2247.4" stroke="#3A55A0" stroke-width="3.2"/>
<line x1="302.2" x2="358.2" y1="2248.8" y2="2248.8" stroke="#3A55A0" stroke-width="3.2"/>
<line x1="524.4" x2="580.4" y1="2247.4" y2="2247.4" stroke="#3A55A0" stroke-width="3.2"/>
<line x1="169.7" x2="826.6" y1="2246.6" y2="2246.6" stroke="#000" stroke-width="2.3" stroke-dasharray="7.4 4 2.4 3.8" stroke-dashoffset="2"/>
<line x1="164.7" x2="828.0" y1="2163.1" y2="2163.1" stroke="#000" stroke-width="5.3"/>
<rect x="164.7" y="2008.9" width="663.3" height="408.0" fill="none" stroke="#333333" stroke-width="2.8"/>
</g>
<rect x="164.7" y="1959.2" width="663.3" height="48.1" fill="#F0F8FC" stroke="#333333" stroke-width="2.8"/>
<text x="496.4" y="1989.3" font-size="18.3" text-anchor="middle" fill="#1a1a1a" font-weight="bold" >Kappa (B.1.617.1)</text>
<line x1="153.2" x2="163.2" y1="2043.1" y2="2043.1" stroke="#333333" stroke-width="3.8"/>
<text x="146.0" y="2052.4" font-size="25.5" text-anchor="end" fill="#3d3d3d" textLength="80.5" lengthAdjust="spacingAndGlyphs" stroke="#fff" stroke-width="0.5">0.0625</text>
<line x1="153.2" x2="163.2" y1="2103.1" y2="2103.1" stroke="#333333" stroke-width="3.8"/>
<text x="146.0" y="2112.4" font-size="25.5" text-anchor="end" fill="#3d3d3d" textLength="51.5" lengthAdjust="spacingAndGlyphs" stroke="#fff" stroke-width="0.5">0.25</text>
<line x1="153.2" x2="163.2" y1="2163.1" y2="2163.1" stroke="#333333" stroke-width="3.8"/>
<text x="146.0" y="2172.4" font-size="25.5" text-anchor="end" fill="#3d3d3d" stroke="#fff" stroke-width="0.5">1</text>
<line x1="153.2" x2="163.2" y1="2223.1" y2="2223.1" stroke="#333333" stroke-width="3.8"/>
<text x="146.0" y="2232.4" font-size="25.5" text-anchor="end" fill="#3d3d3d" stroke="#fff" stroke-width="0.5">4</text>
<line x1="153.2" x2="163.2" y1="2283.1" y2="2283.1" stroke="#333333" stroke-width="3.8"/>
<text x="146.0" y="2292.4" font-size="25.5" text-anchor="end" fill="#3d3d3d" textLength="27.5" lengthAdjust="spacingAndGlyphs" stroke="#fff" stroke-width="0.5">16</text>
<line x1="153.2" x2="163.2" y1="2343.1" y2="2343.1" stroke="#333333" stroke-width="3.8"/>
<text x="146.0" y="2352.4" font-size="25.5" text-anchor="end" fill="#3d3d3d" textLength="29.5" lengthAdjust="spacingAndGlyphs" stroke="#fff" stroke-width="0.5">64</text>
<rect x="985.6" y="2008.9" width="496.9" height="408.0" fill="#fff"/>
<g stroke="#EBEBEB"><line x1="1007.5" x2="1007.5" y1="2008.9" y2="2416.9" stroke-width="4.3"/><line x1="1047.8" x2="1047.8" y1="2008.9" y2="2416.9" stroke-width="2.1"/><line x1="1088.2" x2="1088.2" y1="2008.9" y2="2416.9" stroke-width="4.3"/><line x1="1128.5" x2="1128.5" y1="2008.9" y2="2416.9" stroke-width="2.1"/><line x1="1168.9" x2="1168.9" y1="2008.9" y2="2416.9" stroke-width="4.3"/><line x1="1209.2" x2="1209.2" y1="2008.9" y2="2416.9" stroke-width="2.1"/><line x1="1249.6" x2="1249.6" y1="2008.9" y2="2416.9" stroke-width="4.3"/><line x1="1289.9" x2="1289.9" y1="2008.9" y2="2416.9" stroke-width="2.1"/><line x1="1330.3" x2="1330.3" y1="2008.9" y2="2416.9" stroke-width="4.3"/><line x1="1370.6" x2="1370.6" y1="2008.9" y2="2416.9" stroke-width="2.1"/><line x1="1411.0" x2="1411.0" y1="2008.9" y2="2416.9" stroke-width="4.3"/><line x1="1451.3" x2="1451.3" y1="2008.9" y2="2416.9" stroke-width="2.1"/><line x1="985.6" x2="1482.5" y1="2399.2" y2="2399.2" stroke-width="4.3"/><line x1="985.6" x2="1482.5" y1="2366.0" y2="2366.0" stroke-width="2.1"/><line x1="985.6" x2="1482.5" y1="2332.9" y2="2332.9" stroke-width="4.3"/><line x1="985.6" x2="1482.5" y1="2299.8" y2="2299.8" stroke-width="2.1"/><line x1="985.6" x2="1482.5" y1="2266.6" y2="2266.6" stroke-width="4.3"/><line x1="985.6" x2="1482.5" y1="2233.4" y2="2233.4" stroke-width="2.1"/><line x1="985.6" x2="1482.5" y1="2200.3" y2="2200.3" stroke-width="4.3"/><line x1="985.6" x2="1482.5" y1="2167.2" y2="2167.2" stroke-width="2.1"/><line x1="985.6" x2="1482.5" y1="2134.0" y2="2134.0" stroke-width="4.3"/><line x1="985.6" x2="1482.5" y1="2100.8" y2="2100.8" stroke-width="2.1"/><line x1="985.6" x2="1482.5" y1="2067.7" y2="2067.7" stroke-width="4.3"/><line x1="985.6" x2="1482.5" y1="2034.5" y2="2034.5" stroke-width="2.1"/></g>
<text x="1315.7" y="2285.9" font-size="20" text-anchor="middle" fill="#66C2A5" stroke="#66C2A5" stroke-width="0.8">(1)</text>
<text x="1411.9" y="2208.1" font-size="20" text-anchor="middle" fill="#FC8D62" stroke="#FC8D62" stroke-width="0.8">(1)</text>
<text x="1427.1" y="2193.8" font-size="20" text-anchor="middle" fill="#E78AC3" stroke="#E78AC3" stroke-width="0.8">(1)</text>
<g stroke="#66C2A5" fill="none" stroke-width="4.6"><line x1="1308.7" x2="1351.5" y1="2321.7" y2="2321.7"/><line x1="1330" x2="1330" y1="2303.3" y2="2347.7"/></g>
<g stroke="#FC8D62" fill="none" stroke-width="4.6"><line x1="1402.4" x2="1449.4" y1="2243.9" y2="2243.9"/><line x1="1426.2" x2="1426.2" y1="2226.1" y2="2262"/></g>
<g stroke="#E78AC3" fill="none" stroke-width="4.6"><line x1="1418.2" x2="1462.7" y1="2228.6" y2="2228.6"/><line x1="1439.8" x2="1439.8" y1="2214.4" y2="2238.2"/></g>
<polygon points="1269.9,2354.9 1457.9,2200.5 1457.9,2230.1 1269.9,2384.5" fill="#F4A582" fill-opacity="0.68"/>
<line x1="1019.4" y1="2389.4" x2="1458.2" y2="2028.9" stroke="#34478B" stroke-width="2.2" stroke-dasharray="6.5 6"/>
<circle cx="1330" cy="2321.7" r="6.3" stroke-width="4" stroke="#66C2A5" fill="none"/>
<circle cx="1426.2" cy="2243.9" r="6.3" stroke-width="4" stroke="#FC8D62" fill="none"/>
<circle cx="1439.8" cy="2228.6" r="6.3" stroke-width="4" stroke="#E78AC3" fill="none"/>
<line x1="1249.3" y1="2386.7" x2="1457.9" y2="2215.3" stroke="#D62728" stroke-width="2.5" stroke-dasharray="9 6"/>
<g stroke="#7B4FA3" fill="none" stroke-width="4.2"><line x1="1330.2" x2="1330.2" y1="2144.5" y2="2302.3"/><path d="M1322.6 2293.8L1330.2 2302.8L1337.8 2293.8" stroke-width="3.6" stroke-linejoin="miter"/></g>
<text x="1169.0" y="2139.0" font-size="14" text-anchor="middle" fill="#9467BD" textLength="136.5" lengthAdjust="spacingAndGlyphs" fill-opacity="0.8">Average drop in IC50</text>
<text x="1169.0" y="2172.5" font-size="14" text-anchor="middle" fill="#9467BD" fill-opacity="0.8">for B.1.617.1 (7)</text>
<rect x="985.6" y="2008.9" width="496.9" height="408.0" fill="none" stroke="#333333" stroke-width="2.8"/>
<rect x="985.6" y="1959.2" width="496.9" height="48.1" fill="#F0F8FC" stroke="#333333" stroke-width="2.8"/>
<text x="1234.0" y="1989.3" font-size="18.3" text-anchor="middle" fill="#1a1a1a" font-weight="bold" >Kappa (B.1.617.1)</text>
<line x1="974.8" x2="984.1" y1="2067.7" y2="2067.7" stroke="#333333" stroke-width="3.8"/>
<text x="967.6" y="2077.0" font-size="25.5" text-anchor="end" fill="#3d3d3d" stroke="#fff" stroke-width="0.5">2</text>
<line x1="974.8" x2="984.1" y1="2134.0" y2="2134.0" stroke="#333333" stroke-width="3.8"/>
<text x="967.6" y="2143.3" font-size="25.5" text-anchor="end" fill="#3d3d3d" stroke="#fff" stroke-width="0.5">1</text>
<line x1="974.8" x2="984.1" y1="2200.3" y2="2200.3" stroke="#333333" stroke-width="3.8"/>
<text x="967.6" y="2209.6" font-size="25.5" text-anchor="end" fill="#3d3d3d" textLength="22.5" lengthAdjust="spacingAndGlyphs" stroke="#fff" stroke-width="0.5">.5</text>
<line x1="974.8" x2="984.1" y1="2266.6" y2="2266.6" stroke="#333333" stroke-width="3.8"/>
<text x="967.6" y="2275.9" font-size="25.5" text-anchor="end" fill="#3d3d3d" textLength="37.5" lengthAdjust="spacingAndGlyphs" stroke="#fff" stroke-width="0.5">.25</text>
<line x1="974.8" x2="984.1" y1="2332.9" y2="2332.9" stroke="#333333" stroke-width="3.8"/>
<text x="967.6" y="2342.2" font-size="25.5" text-anchor="end" fill="#3d3d3d" textLength="51.5" lengthAdjust="spacingAndGlyphs" stroke="#fff" stroke-width="0.5">.125</text>
<line x1="974.8" x2="984.1" y1="2399.2" y2="2399.2" stroke="#333333" stroke-width="3.8"/>
<text x="967.6" y="2408.5" font-size="25.5" text-anchor="end" fill="#3d3d3d" textLength="51.5" lengthAdjust="spacingAndGlyphs" stroke="#fff" stroke-width="0.5">.062</text>
<line x1="219.1" x2="219.1" y1="2418.4" y2="2427.9" stroke="#333333" stroke-width="3.8"/>
<text transform="translate(232.4,2449.4) rotate(-45)" font-size="26" text-anchor="end" fill="#3d3d3d" textLength="157.5" lengthAdjust="spacingAndGlyphs" stroke="#fff" stroke-width="0.5">Convalescent</text>
<line x1="330.2" x2="330.2" y1="2418.4" y2="2427.9" stroke="#333333" stroke-width="3.8"/>
<text transform="translate(343.5,2449.4) rotate(-45)" font-size="26" text-anchor="end" fill="#3d3d3d" textLength="124.3" lengthAdjust="spacingAndGlyphs" stroke="#fff" stroke-width="0.5">BNT162b2</text>
<line x1="441.3" x2="441.3" y1="2418.4" y2="2427.9" stroke="#333333" stroke-width="3.8"/>
<text transform="translate(454.6,2449.4) rotate(-45)" font-size="26" text-anchor="end" fill="#3d3d3d" textLength="227.5" lengthAdjust="spacingAndGlyphs" stroke="#fff" stroke-width="0.5">ChAdOx1 nCoV-19</text>
<line x1="552.4" x2="552.4" y1="2418.4" y2="2427.9" stroke="#333333" stroke-width="3.8"/>
<text transform="translate(565.7,2449.4) rotate(-45)" font-size="26" text-anchor="end" fill="#3d3d3d" textLength="149.5" lengthAdjust="spacingAndGlyphs" stroke="#fff" stroke-width="0.5">mRNA-1273</text>
<line x1="663.5" x2="663.5" y1="2418.4" y2="2427.9" stroke="#333333" stroke-width="3.8"/>
<text transform="translate(676.8,2449.4) rotate(-45)" font-size="26" text-anchor="end" fill="#3d3d3d" textLength="177.0" lengthAdjust="spacingAndGlyphs" stroke="#fff" stroke-width="0.5">NVX-CoV2373</text>
<line x1="774.6" x2="774.6" y1="2418.4" y2="2427.9" stroke="#333333" stroke-width="3.8"/>
<text transform="translate(787.9,2449.4) rotate(-45)" font-size="26" text-anchor="end" fill="#3d3d3d" textLength="95.4" lengthAdjust="spacingAndGlyphs" stroke="#fff" stroke-width="0.5">BBV152</text>
<line x1="1007.5" x2="1007.5" y1="2418.4" y2="2427.9" stroke="#333333" stroke-width="3.8"/>
<text x="1007.5" y="2455.2" font-size="25.5" text-anchor="middle" fill="#3d3d3d" textLength="51.5" lengthAdjust="spacingAndGlyphs" stroke="#fff" stroke-width="0.5">.062</text>
<line x1="1088.2" x2="1088.2" y1="2418.4" y2="2427.9" stroke="#333333" stroke-width="3.8"/>
<text x="1088.2" y="2455.2" font-size="25.5" text-anchor="middle" fill="#3d3d3d" textLength="51.5" lengthAdjust="spacingAndGlyphs" stroke="#fff" stroke-width="0.5">.125</text>
<line x1="1168.9" x2="1168.9" y1="2418.4" y2="2427.9" stroke="#333333" stroke-width="3.8"/>
<text x="1168.9" y="2455.2" font-size="25.5" text-anchor="middle" fill="#3d3d3d" textLength="37.5" lengthAdjust="spacingAndGlyphs" stroke="#fff" stroke-width="0.5">.25</text>
<line x1="1249.6" x2="1249.6" y1="2418.4" y2="2427.9" stroke="#333333" stroke-width="3.8"/>
<text x="1249.6" y="2455.2" font-size="25.5" text-anchor="middle" fill="#3d3d3d" textLength="22.5" lengthAdjust="spacingAndGlyphs" stroke="#fff" stroke-width="0.5">.5</text>
<line x1="1330.3" x2="1330.3" y1="2418.4" y2="2427.9" stroke="#333333" stroke-width="3.8"/>
<text x="1330.3" y="2455.2" font-size="25.5" text-anchor="middle" fill="#3d3d3d" stroke="#fff" stroke-width="0.5">1</text>
<line x1="1411.0" x2="1411.0" y1="2418.4" y2="2427.9" stroke="#333333" stroke-width="3.8"/>
<text x="1411.0" y="2455.2" font-size="25.5" text-anchor="middle" fill="#3d3d3d" stroke="#fff" stroke-width="0.5">2</text>
<text x="496.6" y="2647.0" font-size="30" text-anchor="middle" fill="#000" >Serum</text>
<text x="1233.5" y="2653.0" font-size="30" text-anchor="middle" fill="#000" textLength="348.0" lengthAdjust="spacingAndGlyphs" >Neutralisation to Ancestral</text>
<text transform="translate(43.2,1251.5) rotate(-90)" font-size="30" text-anchor="middle" fill="#000" textLength="737.0" lengthAdjust="spacingAndGlyphs" >Reduction in neutralization titre (compared to Ancestral)</text>
<text transform="translate(892.8,1253.4) rotate(-90)" font-size="30" text-anchor="middle" fill="#000" textLength="951.0" lengthAdjust="spacingAndGlyphs" >Neutralisation titre to variant: (/ convalescent to ancestral in same study)</text>
<text x="1632.4" y="819.3" font-size="22" text-anchor="start" fill="#000" font-weight="bold" textLength="115.0" lengthAdjust="spacingAndGlyphs" >Laboratory</text>
<g stroke="#E41A1C" stroke-width="5" fill="none"><line x1="1652" x2="1652" y1="844.9" y2="870.9"/><rect x="1636.7" y="851.7" width="30.6" height="15.4" fill="#fff" stroke-linejoin="round"/><line x1="1636.7" x2="1667.3" y1="859.4" y2="859.4"/><circle cx="1652" cy="859.4" r="1.8" fill="#E41A1C"/></g>
<text x="1685.0" y="867.2" font-size="21.5" text-anchor="start" fill="#000" textLength="65.0" lengthAdjust="spacingAndGlyphs" >Lab 01</text>
<g stroke="#5A6A99" stroke-width="5" fill="none"><line x1="1652" x2="1652" y1="876.6" y2="902.6"/><rect x="1636.7" y="883.4" width="30.6" height="15.4" fill="#fff" stroke-linejoin="round"/><line x1="1636.7" x2="1667.3" y1="891.1" y2="891.1"/><circle cx="1652" cy="891.1" r="1.8" fill="#5A6A99"/></g>
<text x="1685.0" y="898.9" font-size="21.5" text-anchor="start" fill="#000" textLength="65.0" lengthAdjust="spacingAndGlyphs" >Lab 02</text>
<g stroke="#449B76" stroke-width="5" fill="none"><line x1="1652" x2="1652" y1="908.4" y2="934.4"/><rect x="1636.7" y="915.2" width="30.6" height="15.4" fill="#fff" stroke-linejoin="round"/><line x1="1636.7" x2="1667.3" y1="922.9" y2="922.9"/><circle cx="1652" cy="922.9" r="1.8" fill="#449B76"/></g>
<text x="1685.0" y="930.7" font-size="21.5" text-anchor="start" fill="#000" textLength="65.0" lengthAdjust="spacingAndGlyphs" >Lab 03</text>
<g stroke="#6B886D" stroke-width="5" fill="none"><line x1="1652" x2="1652" y1="940.1" y2="966.1"/><rect x="1636.7" y="946.9" width="30.6" height="15.4" fill="#fff" stroke-linejoin="round"/><line x1="1636.7" x2="1667.3" y1="954.6" y2="954.6"/><circle cx="1652" cy="954.6" r="1.8" fill="#6B886D"/></g>
<text x="1685.0" y="962.4" font-size="21.5" text-anchor="start" fill="#000" textLength="65.0" lengthAdjust="spacingAndGlyphs" >Lab 04</text>
<g stroke="#AC5782" stroke-width="5" fill="none"><line x1="1652" x2="1652" y1="971.9" y2="997.9"/><rect x="1636.7" y="978.7" width="30.6" height="15.4" fill="#fff" stroke-linejoin="round"/><line x1="1636.7" x2="1667.3" y1="986.4" y2="986.4"/><circle cx="1652" cy="986.4" r="1.8" fill="#AC5782"/></g>
<text x="1685.0" y="994.2" font-size="21.5" text-anchor="start" fill="#000" textLength="65.0" lengthAdjust="spacingAndGlyphs" >Lab 05</text>
<g stroke="#FF7F00" stroke-width="5" fill="none"><line x1="1652" x2="1652" y1="1003.6" y2="1029.7"/><rect x="1636.7" y="1010.4" width="30.6" height="15.4" fill="#fff" stroke-linejoin="round"/><line x1="1636.7" x2="1667.3" y1="1018.1" y2="1018.1"/><circle cx="1652" cy="1018.1" r="1.8" fill="#FF7F00"/></g>
<text x="1685.0" y="1026.0" font-size="21.5" text-anchor="start" fill="#000" textLength="65.0" lengthAdjust="spacingAndGlyphs" >Lab 06</text>
<g stroke="#FFE528" stroke-width="5" fill="none"><line x1="1652" x2="1652" y1="1035.4" y2="1061.4"/><rect x="1636.7" y="1042.2" width="30.6" height="15.4" fill="#fff" stroke-linejoin="round"/><line x1="1636.7" x2="1667.3" y1="1049.9" y2="1049.9"/><circle cx="1652" cy="1049.9" r="1.8" fill="#FFE528"/></g>
<text x="1685.0" y="1057.7" font-size="21.5" text-anchor="start" fill="#000" textLength="65.0" lengthAdjust="spacingAndGlyphs" >Lab 07</text>
<g stroke="#C9992C" stroke-width="5" fill="none"><line x1="1652" x2="1652" y1="1067.2" y2="1093.2"/><rect x="1636.7" y="1074.0" width="30.6" height="15.4" fill="#fff" stroke-linejoin="round"/><line x1="1636.7" x2="1667.3" y1="1081.7" y2="1081.7"/><circle cx="1652" cy="1081.7" r="1.8" fill="#C9992C"/></g>
<text x="1685.0" y="1089.5" font-size="21.5" text-anchor="start" fill="#000" textLength="65.0" lengthAdjust="spacingAndGlyphs" >Lab 08</text>
<g stroke="#C66764" stroke-width="5" fill="none"><line x1="1652" x2="1652" y1="1098.9" y2="1124.9"/><rect x="1636.7" y="1105.7" width="30.6" height="15.4" fill="#fff" stroke-linejoin="round"/><line x1="1636.7" x2="1667.3" y1="1113.4" y2="1113.4"/><circle cx="1652" cy="1113.4" r="1.8" fill="#C66764"/></g>
<text x="1685.0" y="1121.2" font-size="21.5" text-anchor="start" fill="#000" textLength="65.0" lengthAdjust="spacingAndGlyphs" >Lab 09</text>
<g stroke="#E485B7" stroke-width="5" fill="none"><line x1="1652" x2="1652" y1="1130.7" y2="1156.7"/><rect x="1636.7" y="1137.5" width="30.6" height="15.4" fill="#fff" stroke-linejoin="round"/><line x1="1636.7" x2="1667.3" y1="1145.2" y2="1145.2"/><circle cx="1652" cy="1145.2" r="1.8" fill="#E485B7"/></g>
<text x="1685.0" y="1153.0" font-size="21.5" text-anchor="start" fill="#000" textLength="65.0" lengthAdjust="spacingAndGlyphs" >Lab 10</text>
<g stroke="#999999" stroke-width="5" fill="none"><line x1="1652" x2="1652" y1="1162.4" y2="1188.4"/><rect x="1636.7" y="1169.2" width="30.6" height="15.4" fill="#fff" stroke-linejoin="round"/><line x1="1636.7" x2="1667.3" y1="1176.9" y2="1176.9"/><circle cx="1652" cy="1176.9" r="1.8" fill="#999999"/></g>
<text x="1685.0" y="1184.7" font-size="21.5" text-anchor="start" fill="#000" textLength="65.0" lengthAdjust="spacingAndGlyphs" >Lab 11</text>
<text x="1569.4" y="1586.5" font-size="22" text-anchor="start" fill="#000" font-weight="bold" textLength="68.0" lengthAdjust="spacingAndGlyphs" >Serum</text>
<g stroke="#66C2A5" fill="none"><line x1="1573.0" x2="1607.8000000000002" y1="1625.4" y2="1625.4" stroke-width="5.4"/><circle cx="1590.4" cy="1625.4" r="7.2" stroke-width="4.3"/></g>
<text x="1623.4" y="1633.4" font-size="21.5" text-anchor="start" fill="#000" textLength="134.0" lengthAdjust="spacingAndGlyphs" >Convalescent</text>
<g stroke="#FC8D62" fill="none"><line x1="1573.0" x2="1607.8000000000002" y1="1657.2" y2="1657.2" stroke-width="5.4"/><circle cx="1590.4" cy="1657.2" r="7.2" stroke-width="4.3"/></g>
<text x="1623.4" y="1665.2" font-size="21.5" text-anchor="start" fill="#000" textLength="106.0" lengthAdjust="spacingAndGlyphs" >BNT162b2</text>
<g stroke="#8DA0CB" fill="none"><line x1="1573.0" x2="1607.8000000000002" y1="1689.0" y2="1689.0" stroke-width="5.4"/><circle cx="1590.4" cy="1689.0" r="7.2" stroke-width="4.3"/></g>
<text x="1623.4" y="1697.0" font-size="21.5" text-anchor="start" fill="#000" textLength="197.0" lengthAdjust="spacingAndGlyphs" >ChAdOx1 nCoV-19</text>
<g stroke="#E78AC3" fill="none"><line x1="1573.0" x2="1607.8000000000002" y1="1720.8" y2="1720.8" stroke-width="5.4"/><circle cx="1590.4" cy="1720.8" r="7.2" stroke-width="4.3"/></g>
<text x="1623.4" y="1728.8" font-size="21.5" text-anchor="start" fill="#000" textLength="128.0" lengthAdjust="spacingAndGlyphs" >mRNA-1273</text>
<g stroke="#A6D854" fill="none"><line x1="1573.0" x2="1607.8000000000002" y1="1752.6" y2="1752.6" stroke-width="5.4"/><circle cx="1590.4" cy="1752.6" r="7.2" stroke-width="4.3"/></g>
<text x="1623.4" y="1760.6" font-size="21.5" text-anchor="start" fill="#000" textLength="152.0" lengthAdjust="spacingAndGlyphs" >NVX-CoV2373</text>
</svg>
<div id="frame"></div>
</body></html>
